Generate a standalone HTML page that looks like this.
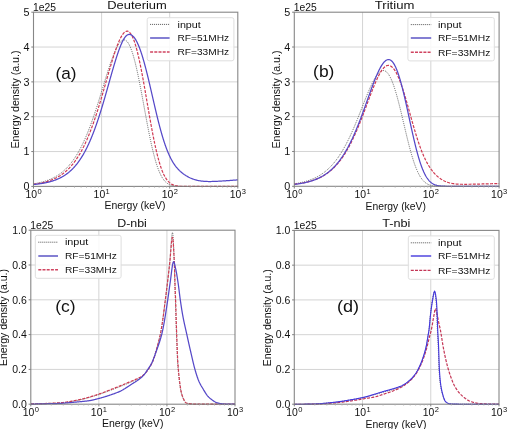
<!DOCTYPE html>
<html><head><meta charset="utf-8"><style>
html,body{margin:0;padding:0;background:#fff;width:507px;height:429px;overflow:hidden}
svg{position:absolute;left:0;top:0;display:block;filter:blur(0.3px)}
text{fill:#111}
text.s{font-family:"Liberation Sans",sans-serif}
text.r{font-family:"Liberation Serif",serif}
</style></head><body>
<svg width="507" height="429" viewBox="0 0 507 429">
<defs>
<clipPath id="clipa"><rect x="32.5" y="11.2" width="206.3" height="176.20000000000002"/></clipPath>
<clipPath id="clipb"><rect x="293.3" y="11.2" width="206.8" height="176.10000000000002"/></clipPath>
<clipPath id="clipc"><rect x="29.8" y="229.2" width="206.2" height="176.0"/></clipPath>
<clipPath id="clipd"><rect x="293.3" y="229.4" width="206.7" height="175.79999999999998"/></clipPath>
</defs>
<line x1="101.60" y1="12.20" x2="101.60" y2="186.40" stroke="#d4d4d4" stroke-width="1"/>
<line x1="169.70" y1="12.20" x2="169.70" y2="186.40" stroke="#d4d4d4" stroke-width="1"/>
<line x1="33.50" y1="151.56" x2="237.80" y2="151.56" stroke="#d4d4d4" stroke-width="1"/>
<line x1="33.50" y1="116.72" x2="237.80" y2="116.72" stroke="#d4d4d4" stroke-width="1"/>
<line x1="33.50" y1="81.88" x2="237.80" y2="81.88" stroke="#d4d4d4" stroke-width="1"/>
<line x1="33.50" y1="47.04" x2="237.80" y2="47.04" stroke="#d4d4d4" stroke-width="1"/>
<path d="M33.50,183.82 34.09,183.72 34.68,183.62 35.27,183.52 35.86,183.41 36.45,183.30 37.04,183.19 37.63,183.07 38.21,182.95 38.80,182.82 39.39,182.69 39.97,182.56 40.55,182.42 41.13,182.28 41.72,182.13 42.29,181.98 42.87,181.82 43.45,181.66 44.02,181.49 44.60,181.31 45.17,181.14 45.74,180.95 46.31,180.76 46.88,180.57 47.44,180.37 48.00,180.16 48.56,179.95 49.12,179.73 49.68,179.50 50.23,179.27 50.78,179.04 51.33,178.79 51.87,178.54 52.42,178.29 52.96,178.03 53.49,177.76 54.02,177.48 54.55,177.20 55.08,176.91 55.60,176.62 56.12,176.32 56.63,176.01 57.15,175.70 57.65,175.38 58.16,175.06 58.66,174.73 59.15,174.39 59.64,174.04 60.13,173.69 60.61,173.34 61.09,172.98 61.56,172.61 62.03,172.24 62.50,171.86 62.96,171.47 63.41,171.08 63.86,170.69 64.31,170.29 64.75,169.89 65.19,169.48 65.62,169.06 66.05,168.64 66.48,168.22 66.89,167.79 67.31,167.36 67.72,166.92 68.13,166.48 68.53,166.04 68.93,165.59 69.32,165.14 69.71,164.68 70.09,164.22 70.47,163.76 70.85,163.29 71.22,162.82 71.59,162.35 71.96,161.88 72.32,161.40 72.67,160.92 73.03,160.43 73.38,159.94 73.72,159.46 74.07,158.96 74.40,158.47 74.74,157.97 75.07,157.47 75.40,156.97 75.72,156.47 76.05,155.96 76.36,155.45 76.68,154.95 76.99,154.43 77.30,153.92 77.61,153.41 77.91,152.89 78.21,152.37 78.51,151.85 78.81,151.33 79.10,150.81 79.39,150.28 79.67,149.75 79.96,149.23 80.24,148.70 80.52,148.17 80.80,147.64 81.07,147.10 81.34,146.57 81.61,146.03 81.88,145.50 82.15,144.96 82.41,144.42 82.67,143.88 82.93,143.34 83.19,142.80 83.44,142.26 83.70,141.72 83.95,141.17 84.20,140.63 84.45,140.08 84.69,139.54 84.94,138.99 85.18,138.44 85.42,137.89 85.66,137.34 85.89,136.79 86.13,136.24 86.36,135.69 86.60,135.14 86.83,134.58 87.06,134.03 87.29,133.48 87.51,132.92 87.74,132.37 87.96,131.81 88.18,131.25 88.41,130.70 88.63,130.14 88.84,129.58 89.06,129.02 89.28,128.46 89.49,127.90 89.71,127.34 89.92,126.78 90.13,126.22 90.34,125.66 90.55,125.10 90.76,124.54 90.97,123.98 91.17,123.41 91.38,122.85 91.58,122.29 91.78,121.72 91.99,121.16 92.19,120.59 92.39,120.03 92.59,119.46 92.79,118.90 92.98,118.33 93.18,117.77 93.38,117.20 93.57,116.63 93.77,116.07 93.96,115.50 94.15,114.93 94.35,114.37 94.54,113.80 94.73,113.23 94.92,112.66 95.11,112.09 95.30,111.52 95.49,110.95 95.68,110.39 95.86,109.82 96.05,109.25 96.23,108.68 96.42,108.11 96.61,107.54 96.79,106.97 96.97,106.40 97.16,105.83 97.34,105.26 97.52,104.68 97.70,104.11 97.89,103.54 98.07,102.97 98.25,102.40 98.43,101.83 98.61,101.26 98.79,100.68 98.97,100.11 99.14,99.54 99.32,98.97 99.50,98.40 99.68,97.82 99.86,97.25 100.03,96.68 100.21,96.11 100.39,95.53 100.56,94.96 100.74,94.39 100.92,93.82 101.09,93.24 101.27,92.67 101.45,92.10 101.62,91.52 101.80,90.95 101.97,90.38 102.15,89.80 102.32,89.23 102.50,88.66 102.67,88.08 102.85,87.51 103.02,86.94 103.20,86.36 103.37,85.79 103.55,85.22 103.72,84.65 103.90,84.07 104.07,83.50 104.25,82.93 104.42,82.35 104.60,81.78 104.77,81.21 104.95,80.63 105.12,80.06 105.30,79.49 105.48,78.92 105.65,78.34 105.83,77.77 106.01,77.20 106.18,76.62 106.36,76.05 106.54,75.48 106.72,74.91 106.90,74.34 107.08,73.76 107.26,73.19 107.44,72.62 107.62,72.05 107.80,71.48 107.98,70.91 108.16,70.34 108.35,69.77 108.53,69.20 108.71,68.62 108.90,68.05 109.08,67.49 109.27,66.92 109.46,66.35 109.65,65.78 109.84,65.21 110.03,64.64 110.22,64.07 110.41,63.50 110.60,62.94 110.80,62.37 110.99,61.80 111.19,61.24 111.39,60.67 111.59,60.11 111.79,59.54 112.00,58.98 112.20,58.42 112.41,57.85 112.62,57.29 112.83,56.73 113.04,56.17 113.25,55.61 113.47,55.05 113.69,54.49 113.91,53.94 114.14,53.38 114.36,52.83 114.59,52.28 114.83,51.72 115.07,51.17 115.31,50.62 115.55,50.08 115.80,49.53 116.06,48.99 116.32,48.45 116.58,47.91 116.85,47.38 117.13,46.85 117.41,46.32 117.71,45.80 118.01,45.28 118.32,44.76 118.64,44.26 118.97,43.76 119.32,43.27 119.68,42.79 120.06,42.33 120.45,41.88 120.87,41.45 121.32,41.05 121.80,40.69 122.31,40.38 122.85,40.13 123.43,39.96 124.02,39.90 124.62,39.95 125.19,40.13 125.72,40.40 126.22,40.74 126.67,41.13 127.09,41.56 127.47,42.02 127.84,42.50 128.18,42.99 128.50,43.50 128.80,44.01 129.09,44.54 129.37,45.07 129.63,45.60 129.89,46.15 130.14,46.69 130.38,47.24 130.61,47.80 130.83,48.35 131.05,48.91 131.26,49.47 131.47,50.03 131.67,50.60 131.87,51.16 132.06,51.73 132.25,52.30 132.44,52.87 132.62,53.44 132.80,54.01 132.98,54.58 133.15,55.16 133.32,55.73 133.49,56.31 133.65,56.88 133.81,57.46 133.98,58.04 134.13,58.61 134.29,59.19 134.44,59.77 134.60,60.35 134.75,60.93 134.90,61.51 135.04,62.09 135.19,62.67 135.34,63.26 135.48,63.84 135.62,64.42 135.76,65.00 135.90,65.59 136.04,66.17 136.17,66.75 136.31,67.34 136.44,67.92 136.58,68.51 136.71,69.09 136.84,69.67 136.97,70.26 137.10,70.84 137.23,71.43 137.36,72.02 137.48,72.60 137.61,73.19 137.74,73.77 137.86,74.36 137.98,74.95 138.11,75.53 138.23,76.12 138.35,76.71 138.47,77.29 138.59,77.88 138.71,78.47 138.83,79.05 138.95,79.64 139.07,80.23 139.19,80.82 139.31,81.40 139.42,81.99 139.54,82.58 139.66,83.17 139.77,83.76 139.89,84.34 140.00,84.93 140.12,85.52 140.23,86.11 140.34,86.70 140.46,87.29 140.57,87.87 140.68,88.46 140.79,89.05 140.91,89.64 141.02,90.23 141.13,90.82 141.24,91.41 141.35,92.00 141.46,92.58 141.57,93.17 141.68,93.76 141.79,94.35 141.90,94.94 142.01,95.53 142.12,96.12 142.23,96.71 142.34,97.30 142.45,97.89 142.56,98.48 142.67,99.07 142.78,99.66 142.89,100.24 143.00,100.83 143.10,101.42 143.21,102.01 143.32,102.60 143.43,103.19 143.54,103.78 143.64,104.37 143.75,104.96 143.86,105.55 143.97,106.14 144.08,106.73 144.18,107.32 144.29,107.91 144.40,108.50 144.51,109.09 144.62,109.68 144.73,110.27 144.83,110.86 144.94,111.44 145.05,112.03 145.16,112.62 145.27,113.21 145.38,113.80 145.48,114.39 145.59,114.98 145.70,115.57 145.81,116.16 145.92,116.75 146.03,117.34 146.14,117.93 146.25,118.52 146.36,119.11 146.47,119.69 146.58,120.28 146.69,120.87 146.80,121.46 146.91,122.05 147.02,122.64 147.13,123.23 147.24,123.82 147.36,124.41 147.47,125.00 147.58,125.58 147.69,126.17 147.81,126.76 147.92,127.35 148.03,127.94 148.15,128.53 148.26,129.11 148.38,129.70 148.49,130.29 148.61,130.88 148.72,131.47 148.84,132.06 148.95,132.64 149.07,133.23 149.19,133.82 149.31,134.41 149.43,134.99 149.55,135.58 149.67,136.17 149.79,136.76 149.91,137.34 150.03,137.93 150.15,138.52 150.27,139.10 150.40,139.69 150.52,140.28 150.64,140.86 150.77,141.45 150.89,142.03 151.02,142.62 151.15,143.21 151.28,143.79 151.41,144.38 151.54,144.96 151.67,145.55 151.80,146.13 151.93,146.72 152.06,147.30 152.20,147.88 152.33,148.47 152.47,149.05 152.61,149.63 152.74,150.22 152.88,150.80 153.02,151.38 153.17,151.97 153.31,152.55 153.45,153.13 153.60,153.71 153.75,154.29 153.90,154.87 154.05,155.45 154.20,156.03 154.35,156.61 154.50,157.19 154.66,157.77 154.82,158.35 154.98,158.92 155.14,159.50 155.30,160.08 155.47,160.65 155.64,161.23 155.81,161.80 155.98,162.38 156.16,162.95 156.33,163.52 156.51,164.09 156.70,164.67 156.88,165.24 157.07,165.80 157.26,166.37 157.46,166.94 157.65,167.50 157.86,168.07 158.06,168.63 158.27,169.19 158.48,169.75 158.70,170.31 158.92,170.87 159.15,171.42 159.38,171.98 159.62,172.53 159.86,173.07 160.11,173.62 160.37,174.16 160.63,174.70 160.90,175.24 161.17,175.77 161.46,176.30 161.75,176.82 162.05,177.34 162.37,177.85 162.69,178.35 163.02,178.85 163.37,179.34 163.72,179.82 164.09,180.29 164.47,180.76 164.87,181.20 165.28,181.64 165.71,182.06 166.15,182.46 166.61,182.85 167.09,183.22 167.58,183.56 168.08,183.89 168.60,184.19 169.13,184.46 169.67,184.72 170.23,184.94 170.79,185.15 171.36,185.33 171.94,185.49 172.52,185.63 173.11,185.76 173.70,185.86 174.29,185.95 174.88,186.03 175.48,186.10 176.08,186.15 176.67,186.20 177.27,186.24 177.87,186.27 178.47,186.29 179.07,186.32 179.67,186.33 180.27,186.35 180.87,186.36 181.46,186.37 182.06,186.38 182.66,186.38 183.26,186.39 183.86,186.39 184.46,186.39 185.06,186.39 185.66,186.40 186.26,186.40 186.86,186.40 187.46,186.40 188.06,186.40 188.66,186.40 189.26,186.40 189.86,186.40 190.45,186.40 191.05,186.40 191.65,186.40 192.25,186.40 192.85,186.40 193.45,186.40 194.05,186.40 194.65,186.40 195.25,186.40 195.85,186.40 196.45,186.40 197.05,186.40 197.65,186.40 198.25,186.40 198.84,186.40 199.44,186.40 200.04,186.40 200.64,186.40 201.24,186.40 201.84,186.40 202.44,186.40 203.04,186.40 203.64,186.40 204.24,186.40 204.84,186.40 205.44,186.40 206.04,186.40 206.64,186.40 207.24,186.40 207.83,186.40 208.43,186.40 209.03,186.40 209.63,186.40 210.23,186.40 210.83,186.40 211.43,186.40 212.03,186.40 212.63,186.40 213.23,186.40 213.83,186.40 214.43,186.40 215.03,186.40 215.63,186.40 216.22,186.40 216.82,186.40 217.42,186.40 218.02,186.40 218.62,186.40 219.22,186.40 219.82,186.40 220.42,186.40 221.02,186.40 221.62,186.40 222.22,186.40 222.82,186.40 223.42,186.40 224.02,186.40 224.62,186.40 225.21,186.40 225.81,186.40 226.41,186.40 227.01,186.40 227.61,186.40 228.21,186.40 228.81,186.40 229.41,186.40 230.01,186.40 230.61,186.40 231.21,186.40 231.81,186.40 232.41,186.40 233.01,186.40 233.60,186.40 234.20,186.40 234.80,186.40 235.40,186.40 236.00,186.40 236.60,186.40 237.20,186.40 237.80,186.40" fill="none" stroke="#444" stroke-width="0.9" stroke-dasharray="0.9 1.1" clip-path="url(#clipa)"/>
<path d="M33.50,184.29 34.09,184.21 34.69,184.13 35.28,184.04 35.87,183.95 36.47,183.86 37.06,183.77 37.65,183.67 38.24,183.56 38.83,183.46 39.42,183.35 40.01,183.23 40.59,183.11 41.18,182.99 41.77,182.87 42.35,182.73 42.93,182.60 43.52,182.46 44.10,182.31 44.68,182.17 45.26,182.01 45.84,181.85 46.41,181.69 46.99,181.52 47.56,181.34 48.13,181.16 48.70,180.98 49.27,180.79 49.84,180.59 50.40,180.38 50.96,180.17 51.52,179.96 52.08,179.74 52.63,179.51 53.18,179.28 53.73,179.04 54.28,178.79 54.82,178.54 55.36,178.28 55.90,178.01 56.43,177.74 56.96,177.46 57.49,177.17 58.01,176.88 58.53,176.58 59.05,176.28 59.56,175.97 60.07,175.65 60.57,175.32 61.07,174.99 61.57,174.66 62.06,174.31 62.55,173.96 63.03,173.61 63.51,173.25 63.98,172.88 64.45,172.51 64.92,172.13 65.38,171.75 65.83,171.36 66.28,170.96 66.73,170.56 67.17,170.15 67.61,169.74 68.04,169.33 68.47,168.91 68.89,168.48 69.31,168.06 69.72,167.62 70.13,167.18 70.54,166.74 70.94,166.30 71.33,165.85 71.72,165.39 72.11,164.93 72.49,164.47 72.87,164.01 73.25,163.54 73.62,163.07 73.98,162.59 74.34,162.12 74.70,161.64 75.06,161.15 75.41,160.67 75.75,160.18 76.10,159.68 76.43,159.19 76.77,158.69 77.10,158.20 77.43,157.69 77.76,157.19 78.08,156.68 78.40,156.18 78.71,155.67 79.02,155.15 79.33,154.64 79.64,154.13 79.94,153.61 80.24,153.09 80.54,152.57 80.83,152.05 81.12,151.52 81.41,151.00 81.69,150.47 81.98,149.94 82.26,149.41 82.53,148.88 82.81,148.35 83.08,147.81 83.35,147.28 83.62,146.74 83.89,146.21 84.15,145.67 84.41,145.13 84.67,144.59 84.93,144.05 85.18,143.50 85.43,142.96 85.68,142.41 85.93,141.87 86.18,141.32 86.42,140.78 86.67,140.23 86.91,139.68 87.15,139.13 87.38,138.58 87.62,138.03 87.85,137.48 88.09,136.92 88.32,136.37 88.55,135.82 88.77,135.26 89.00,134.71 89.22,134.15 89.45,133.60 89.67,133.04 89.89,132.48 90.11,131.92 90.33,131.36 90.54,130.81 90.76,130.25 90.97,129.69 91.18,129.13 91.39,128.56 91.60,128.00 91.81,127.44 92.02,126.88 92.22,126.32 92.43,125.75 92.63,125.19 92.83,124.62 93.04,124.06 93.24,123.50 93.44,122.93 93.63,122.36 93.83,121.80 94.03,121.23 94.22,120.67 94.42,120.10 94.61,119.53 94.80,118.96 95.00,118.40 95.19,117.83 95.38,117.26 95.57,116.69 95.76,116.12 95.94,115.55 96.13,114.98 96.32,114.41 96.50,113.84 96.69,113.27 96.87,112.70 97.05,112.13 97.24,111.56 97.42,110.99 97.60,110.42 97.78,109.85 97.96,109.28 98.14,108.70 98.32,108.13 98.49,107.56 98.67,106.99 98.85,106.41 99.03,105.84 99.20,105.27 99.38,104.70 99.55,104.12 99.73,103.55 99.90,102.98 100.07,102.40 100.25,101.83 100.42,101.25 100.59,100.68 100.76,100.11 100.93,99.53 101.10,98.96 101.27,98.38 101.44,97.81 101.61,97.23 101.78,96.66 101.95,96.08 102.12,95.51 102.29,94.93 102.46,94.36 102.62,93.78 102.79,93.21 102.96,92.63 103.13,92.05 103.29,91.48 103.46,90.90 103.62,90.33 103.79,89.75 103.96,89.18 104.12,88.60 104.29,88.02 104.45,87.45 104.62,86.87 104.78,86.29 104.95,85.72 105.11,85.14 105.28,84.57 105.44,83.99 105.61,83.41 105.77,82.84 105.93,82.26 106.10,81.68 106.26,81.11 106.43,80.53 106.59,79.95 106.76,79.38 106.92,78.80 107.08,78.23 107.25,77.65 107.41,77.07 107.58,76.50 107.74,75.92 107.91,75.34 108.07,74.77 108.24,74.19 108.40,73.62 108.57,73.04 108.73,72.46 108.90,71.89 109.07,71.31 109.23,70.74 109.40,70.16 109.57,69.58 109.73,69.01 109.90,68.43 110.07,67.86 110.24,67.28 110.41,66.71 110.58,66.13 110.75,65.56 110.92,64.98 111.09,64.41 111.26,63.83 111.43,63.26 111.60,62.69 111.77,62.11 111.95,61.54 112.12,60.97 112.30,60.39 112.47,59.82 112.65,59.25 112.83,58.67 113.00,58.10 113.18,57.53 113.36,56.96 113.54,56.39 113.72,55.81 113.91,55.24 114.09,54.67 114.28,54.10 114.46,53.53 114.65,52.96 114.84,52.40 115.03,51.83 115.22,51.26 115.41,50.69 115.61,50.13 115.81,49.56 116.00,48.99 116.20,48.43 116.41,47.86 116.61,47.30 116.82,46.74 117.03,46.18 117.24,45.62 117.45,45.06 117.67,44.50 117.89,43.94 118.11,43.38 118.34,42.83 118.57,42.28 118.80,41.72 119.04,41.17 119.28,40.63 119.53,40.08 119.78,39.54 120.04,38.99 120.30,38.46 120.58,37.92 120.85,37.39 121.14,36.86 121.44,36.34 121.74,35.83 122.06,35.32 122.39,34.82 122.73,34.33 123.09,33.85 123.47,33.38 123.87,32.94 124.30,32.52 124.75,32.13 125.24,31.78 125.77,31.50 126.33,31.29 126.92,31.19 127.52,31.22 128.10,31.37 128.64,31.63 129.13,31.96 129.59,32.36 130.00,32.79 130.39,33.25 130.74,33.73 131.08,34.23 131.39,34.74 131.69,35.26 131.97,35.79 132.24,36.32 132.50,36.86 132.75,37.41 132.99,37.95 133.23,38.51 133.45,39.06 133.67,39.62 133.88,40.18 134.09,40.74 134.29,41.31 134.49,41.87 134.68,42.44 134.87,43.01 135.05,43.58 135.23,44.15 135.41,44.73 135.58,45.30 135.75,45.87 135.92,46.45 136.08,47.03 136.24,47.60 136.40,48.18 136.56,48.76 136.72,49.34 136.87,49.92 137.02,50.50 137.17,51.08 137.32,51.66 137.46,52.24 137.61,52.82 137.75,53.40 137.89,53.99 138.03,54.57 138.17,55.15 138.31,55.74 138.44,56.32 138.57,56.90 138.71,57.49 138.84,58.07 138.97,58.66 139.10,59.24 139.23,59.83 139.36,60.41 139.48,61.00 139.61,61.59 139.73,62.17 139.86,62.76 139.98,63.35 140.10,63.93 140.22,64.52 140.34,65.11 140.46,65.69 140.58,66.28 140.70,66.87 140.82,67.46 140.93,68.04 141.05,68.63 141.17,69.22 141.28,69.81 141.40,70.40 141.51,70.99 141.62,71.57 141.74,72.16 141.85,72.75 141.96,73.34 142.07,73.93 142.18,74.52 142.30,75.11 142.41,75.70 142.52,76.29 142.63,76.87 142.73,77.46 142.84,78.05 142.95,78.64 143.06,79.23 143.17,79.82 143.27,80.41 143.38,81.00 143.49,81.59 143.59,82.18 143.70,82.77 143.81,83.36 143.91,83.95 144.02,84.54 144.12,85.13 144.23,85.72 144.33,86.31 144.44,86.90 144.54,87.49 144.64,88.08 144.75,88.67 144.85,89.26 144.95,89.85 145.06,90.44 145.16,91.03 145.26,91.62 145.37,92.21 145.47,92.80 145.57,93.40 145.67,93.99 145.78,94.58 145.88,95.17 145.98,95.76 146.08,96.35 146.19,96.94 146.29,97.53 146.39,98.12 146.49,98.71 146.59,99.30 146.70,99.89 146.80,100.48 146.90,101.07 147.00,101.66 147.10,102.25 147.20,102.85 147.31,103.44 147.41,104.03 147.51,104.62 147.61,105.21 147.71,105.80 147.82,106.39 147.92,106.98 148.02,107.57 148.12,108.16 148.22,108.75 148.33,109.34 148.43,109.93 148.53,110.52 148.63,111.11 148.74,111.70 148.84,112.29 148.94,112.88 149.04,113.48 149.15,114.07 149.25,114.66 149.35,115.25 149.46,115.84 149.56,116.43 149.67,117.02 149.77,117.61 149.87,118.20 149.98,118.79 150.08,119.38 150.19,119.97 150.29,120.56 150.40,121.15 150.51,121.74 150.61,122.33 150.72,122.92 150.82,123.51 150.93,124.10 151.04,124.69 151.15,125.28 151.25,125.87 151.36,126.46 151.47,127.05 151.58,127.63 151.69,128.22 151.80,128.81 151.91,129.40 152.02,129.99 152.13,130.58 152.24,131.17 152.35,131.76 152.47,132.35 152.58,132.94 152.69,133.52 152.80,134.11 152.92,134.70 153.03,135.29 153.15,135.88 153.26,136.47 153.38,137.05 153.50,137.64 153.61,138.23 153.73,138.82 153.85,139.40 153.97,139.99 154.09,140.58 154.21,141.17 154.33,141.75 154.46,142.34 154.58,142.93 154.70,143.51 154.83,144.10 154.95,144.68 155.08,145.27 155.21,145.86 155.33,146.44 155.46,147.03 155.59,147.61 155.72,148.20 155.85,148.78 155.99,149.37 156.12,149.95 156.26,150.53 156.39,151.12 156.53,151.70 156.67,152.28 156.81,152.87 156.95,153.45 157.09,154.03 157.24,154.61 157.38,155.20 157.53,155.78 157.68,156.36 157.83,156.94 157.98,157.52 158.13,158.10 158.29,158.68 158.45,159.25 158.61,159.83 158.77,160.41 158.93,160.99 159.10,161.56 159.26,162.14 159.43,162.71 159.61,163.29 159.78,163.86 159.96,164.43 160.14,165.00 160.32,165.57 160.51,166.14 160.70,166.71 160.89,167.28 161.09,167.85 161.29,168.41 161.49,168.97 161.70,169.54 161.91,170.10 162.13,170.66 162.35,171.21 162.57,171.77 162.81,172.32 163.04,172.87 163.29,173.42 163.53,173.96 163.79,174.51 164.05,175.05 164.32,175.58 164.60,176.11 164.89,176.64 165.18,177.16 165.49,177.68 165.80,178.19 166.13,178.69 166.46,179.18 166.81,179.67 167.17,180.15 167.55,180.62 167.94,181.07 168.34,181.52 168.76,181.94 169.20,182.36 169.65,182.75 170.12,183.12 170.60,183.48 171.10,183.81 171.61,184.12 172.14,184.41 172.68,184.67 173.23,184.90 173.79,185.11 174.36,185.30 174.93,185.47 175.52,185.61 176.10,185.74 176.69,185.85 177.28,185.94 177.88,186.02 178.47,186.09 179.07,186.15 179.67,186.19 180.27,186.23 180.86,186.27 181.46,186.29 182.06,186.31 182.66,186.33 183.26,186.35 183.86,186.36 184.46,186.37 185.06,186.38 185.66,186.38 186.26,186.39 186.86,186.39 187.45,186.39 188.05,186.39 188.65,186.40 189.25,186.40 189.85,186.40 190.45,186.40 191.05,186.40 191.65,186.40 192.25,186.40 192.85,186.40 193.45,186.40 194.05,186.40 194.65,186.40 195.25,186.40 195.85,186.40 196.44,186.40 197.04,186.40 197.64,186.40 198.24,186.40 198.84,186.40 199.44,186.40 200.04,186.40 200.64,186.40 201.24,186.40 201.84,186.40 202.44,186.40 203.04,186.40 203.64,186.40 204.24,186.40 204.84,186.40 205.44,186.40 206.03,186.40 206.63,186.40 207.23,186.40 207.83,186.40 208.43,186.40 209.03,186.40 209.63,186.40 210.23,186.40 210.83,186.40 211.43,186.40 212.03,186.40 212.63,186.40 213.23,186.40 213.83,186.40 214.43,186.40 215.02,186.40 215.62,186.40 216.22,186.40 216.82,186.40 217.42,186.40 218.02,186.40 218.62,186.40 219.22,186.40 219.82,186.40 220.42,186.40 221.02,186.40 221.62,186.40 222.22,186.40 222.82,186.40 223.42,186.40 224.01,186.40 224.61,186.40 225.21,186.40 225.81,186.40 226.41,186.40 227.01,186.40 227.61,186.40 228.21,186.40 228.81,186.40 229.41,186.40 230.01,186.40 230.61,186.40 231.21,186.40 231.81,186.40 232.41,186.40 233.01,186.40 233.60,186.40 234.20,186.40 234.80,186.40 235.40,186.40 236.00,186.40 236.60,186.40 237.20,186.40 237.80,186.40" fill="none" stroke="#d03a52" stroke-width="1.2" stroke-dasharray="3 1.3" clip-path="url(#clipa)"/>
<path d="M33.50,184.54 34.10,184.48 34.69,184.42 35.29,184.35 35.89,184.29 36.48,184.22 37.08,184.15 37.67,184.07 38.27,184.00 38.86,183.92 39.46,183.83 40.05,183.75 40.64,183.66 41.24,183.57 41.83,183.47 42.42,183.37 43.01,183.27 43.60,183.17 44.19,183.06 44.78,182.94 45.37,182.82 45.96,182.70 46.54,182.57 47.13,182.44 47.71,182.31 48.29,182.17 48.88,182.02 49.46,181.87 50.04,181.72 50.61,181.56 51.19,181.39 51.77,181.22 52.34,181.04 52.91,180.86 53.48,180.67 54.05,180.48 54.61,180.28 55.18,180.07 55.74,179.86 56.30,179.64 56.85,179.42 57.41,179.18 57.96,178.95 58.50,178.70 59.05,178.45 59.59,178.19 60.13,177.93 60.66,177.65 61.19,177.37 61.72,177.09 62.24,176.80 62.76,176.50 63.28,176.19 63.79,175.88 64.30,175.56 64.80,175.23 65.30,174.90 65.80,174.56 66.29,174.22 66.77,173.87 67.25,173.51 67.73,173.14 68.20,172.77 68.67,172.40 69.13,172.01 69.59,171.63 70.04,171.23 70.49,170.83 70.93,170.43 71.37,170.02 71.80,169.60 72.23,169.18 72.66,168.76 73.07,168.33 73.49,167.89 73.90,167.46 74.30,167.01 74.70,166.57 75.10,166.11 75.49,165.66 75.87,165.20 76.25,164.74 76.63,164.27 77.00,163.80 77.37,163.33 77.74,162.85 78.10,162.37 78.45,161.89 78.80,161.40 79.15,160.91 79.50,160.42 79.84,159.93 80.17,159.43 80.50,158.93 80.83,158.43 81.16,157.93 81.48,157.42 81.80,156.91 82.11,156.40 82.42,155.89 82.73,155.37 83.04,154.86 83.34,154.34 83.64,153.82 83.93,153.30 84.23,152.77 84.52,152.25 84.80,151.72 85.09,151.19 85.37,150.66 85.65,150.13 85.92,149.60 86.20,149.06 86.47,148.53 86.74,147.99 87.00,147.46 87.26,146.92 87.53,146.38 87.78,145.84 88.04,145.29 88.30,144.75 88.55,144.21 88.80,143.66 89.05,143.11 89.29,142.57 89.54,142.02 89.78,141.47 90.02,140.92 90.26,140.37 90.49,139.82 90.73,139.27 90.96,138.71 91.19,138.16 91.42,137.61 91.65,137.05 91.88,136.50 92.10,135.94 92.32,135.38 92.55,134.83 92.77,134.27 92.98,133.71 93.20,133.15 93.42,132.59 93.63,132.03 93.84,131.47 94.06,130.91 94.27,130.35 94.47,129.78 94.68,129.22 94.89,128.66 95.09,128.09 95.30,127.53 95.50,126.97 95.70,126.40 95.90,125.84 96.10,125.27 96.30,124.70 96.50,124.14 96.70,123.57 96.89,123.00 97.09,122.44 97.28,121.87 97.47,121.30 97.66,120.73 97.85,120.16 98.04,119.59 98.23,119.03 98.42,118.46 98.61,117.89 98.79,117.32 98.98,116.74 99.16,116.17 99.35,115.60 99.53,115.03 99.71,114.46 99.89,113.89 100.08,113.32 100.26,112.75 100.44,112.17 100.61,111.60 100.79,111.03 100.97,110.45 101.15,109.88 101.32,109.31 101.50,108.73 101.67,108.16 101.85,107.59 102.02,107.01 102.20,106.44 102.37,105.86 102.54,105.29 102.71,104.72 102.89,104.14 103.06,103.57 103.23,102.99 103.40,102.42 103.57,101.84 103.74,101.26 103.91,100.69 104.07,100.11 104.24,99.54 104.41,98.96 104.58,98.39 104.75,97.81 104.91,97.23 105.08,96.66 105.24,96.08 105.41,95.50 105.58,94.93 105.74,94.35 105.91,93.77 106.07,93.20 106.24,92.62 106.40,92.04 106.56,91.47 106.73,90.89 106.89,90.31 107.06,89.74 107.22,89.16 107.38,88.58 107.55,88.00 107.71,87.43 107.87,86.85 108.03,86.27 108.20,85.70 108.36,85.12 108.52,84.54 108.69,83.96 108.85,83.39 109.01,82.81 109.17,82.23 109.34,81.65 109.50,81.08 109.66,80.50 109.82,79.92 109.99,79.35 110.15,78.77 110.31,78.19 110.48,77.61 110.64,77.04 110.80,76.46 110.97,75.88 111.13,75.31 111.30,74.73 111.46,74.15 111.62,73.57 111.79,73.00 111.95,72.42 112.12,71.84 112.29,71.27 112.45,70.69 112.62,70.12 112.79,69.54 112.95,68.96 113.12,68.39 113.29,67.81 113.46,67.24 113.63,66.66 113.80,66.09 113.97,65.51 114.14,64.94 114.31,64.36 114.48,63.79 114.66,63.21 114.83,62.64 115.00,62.06 115.18,61.49 115.36,60.92 115.53,60.34 115.71,59.77 115.89,59.20 116.07,58.63 116.25,58.05 116.43,57.48 116.62,56.91 116.80,56.34 116.99,55.77 117.17,55.20 117.36,54.63 117.55,54.06 117.74,53.49 117.94,52.93 118.13,52.36 118.33,51.79 118.53,51.23 118.73,50.66 118.93,50.10 119.14,49.53 119.35,48.97 119.56,48.41 119.77,47.85 119.99,47.29 120.21,46.73 120.43,46.17 120.65,45.62 120.88,45.06 121.12,44.51 121.36,43.96 121.60,43.41 121.85,42.87 122.10,42.32 122.36,41.78 122.63,41.24 122.90,40.71 123.18,40.18 123.47,39.66 123.77,39.14 124.08,38.62 124.41,38.12 124.74,37.62 125.10,37.14 125.47,36.67 125.86,36.22 126.28,35.79 126.73,35.39 127.22,35.04 127.74,34.74 128.30,34.53 128.89,34.42 129.48,34.42 130.08,34.51 130.65,34.68 131.20,34.92 131.72,35.22 132.22,35.56 132.68,35.94 133.12,36.34 133.54,36.78 133.93,37.23 134.31,37.70 134.67,38.18 135.01,38.67 135.34,39.17 135.66,39.68 135.96,40.19 136.26,40.72 136.55,41.24 136.82,41.77 137.09,42.31 137.36,42.85 137.61,43.39 137.86,43.94 138.11,44.48 138.35,45.03 138.58,45.59 138.81,46.14 139.04,46.70 139.26,47.25 139.47,47.81 139.69,48.37 139.90,48.94 140.10,49.50 140.31,50.06 140.51,50.63 140.70,51.20 140.90,51.76 141.09,52.33 141.28,52.90 141.47,53.47 141.65,54.04 141.84,54.61 142.02,55.18 142.20,55.76 142.37,56.33 142.55,56.90 142.72,57.48 142.89,58.05 143.06,58.63 143.23,59.20 143.40,59.78 143.57,60.35 143.73,60.93 143.89,61.51 144.06,62.09 144.22,62.66 144.38,63.24 144.54,63.82 144.69,64.40 144.85,64.98 145.00,65.56 145.16,66.14 145.31,66.72 145.47,67.30 145.62,67.88 145.77,68.46 145.92,69.04 146.07,69.62 146.22,70.20 146.36,70.78 146.51,71.36 146.66,71.95 146.80,72.53 146.95,73.11 147.09,73.69 147.24,74.27 147.38,74.86 147.52,75.44 147.67,76.02 147.81,76.60 147.95,77.19 148.09,77.77 148.23,78.35 148.37,78.94 148.51,79.52 148.65,80.10 148.79,80.69 148.93,81.27 149.06,81.86 149.20,82.44 149.34,83.02 149.48,83.61 149.61,84.19 149.75,84.77 149.89,85.36 150.02,85.94 150.16,86.53 150.29,87.11 150.43,87.70 150.57,88.28 150.70,88.86 150.84,89.45 150.97,90.03 151.11,90.62 151.24,91.20 151.37,91.79 151.51,92.37 151.64,92.96 151.78,93.54 151.91,94.13 152.05,94.71 152.18,95.29 152.32,95.88 152.45,96.46 152.58,97.05 152.72,97.63 152.85,98.22 152.99,98.80 153.12,99.39 153.26,99.97 153.39,100.56 153.52,101.14 153.66,101.72 153.79,102.31 153.93,102.89 154.06,103.48 154.20,104.06 154.34,104.65 154.47,105.23 154.61,105.82 154.74,106.40 154.88,106.98 155.02,107.57 155.15,108.15 155.29,108.74 155.43,109.32 155.57,109.90 155.70,110.49 155.84,111.07 155.98,111.65 156.12,112.24 156.26,112.82 156.40,113.40 156.54,113.99 156.68,114.57 156.82,115.15 156.96,115.74 157.10,116.32 157.24,116.90 157.39,117.49 157.53,118.07 157.67,118.65 157.82,119.23 157.96,119.81 158.11,120.40 158.26,120.98 158.40,121.56 158.55,122.14 158.70,122.72 158.85,123.30 159.00,123.88 159.15,124.47 159.30,125.05 159.45,125.63 159.60,126.21 159.75,126.79 159.91,127.37 160.06,127.95 160.22,128.53 160.37,129.10 160.53,129.68 160.69,130.26 160.85,130.84 161.01,131.42 161.17,132.00 161.33,132.57 161.50,133.15 161.66,133.73 161.83,134.30 161.99,134.88 162.16,135.45 162.33,136.03 162.50,136.61 162.68,137.18 162.85,137.75 163.03,138.33 163.20,138.90 163.38,139.47 163.56,140.05 163.74,140.62 163.92,141.19 164.11,141.76 164.30,142.33 164.48,142.90 164.67,143.47 164.87,144.04 165.06,144.60 165.26,145.17 165.46,145.74 165.66,146.30 165.86,146.87 166.07,147.43 166.27,147.99 166.48,148.55 166.70,149.11 166.91,149.67 167.13,150.23 167.35,150.79 167.58,151.35 167.80,151.90 168.03,152.46 168.27,153.01 168.50,153.56 168.74,154.11 168.99,154.66 169.24,155.20 169.49,155.75 169.74,156.29 170.00,156.83 170.27,157.37 170.54,157.91 170.81,158.44 171.09,158.97 171.37,159.50 171.66,160.03 171.95,160.55 172.25,161.07 172.55,161.59 172.86,162.10 173.17,162.62 173.49,163.12 173.82,163.63 174.15,164.13 174.49,164.62 174.83,165.11 175.18,165.60 175.54,166.08 175.90,166.56 176.28,167.03 176.65,167.49 177.04,167.95 177.43,168.41 177.83,168.86 178.23,169.30 178.65,169.73 179.07,170.16 179.49,170.59 179.92,171.00 180.36,171.41 180.81,171.81 181.26,172.20 181.72,172.59 182.19,172.97 182.66,173.34 183.13,173.71 183.62,174.06 184.10,174.41 184.60,174.75 185.10,175.08 185.60,175.41 186.11,175.72 186.63,176.03 187.14,176.33 187.67,176.63 188.20,176.91 188.73,177.19 189.27,177.45 189.81,177.71 190.35,177.96 190.90,178.20 191.45,178.44 192.01,178.66 192.57,178.88 193.13,179.08 193.70,179.28 194.27,179.47 194.84,179.65 195.42,179.82 195.99,179.98 196.58,180.13 197.16,180.27 197.74,180.41 198.33,180.53 198.92,180.65 199.51,180.76 200.10,180.86 200.69,180.95 201.29,181.03 201.88,181.11 202.48,181.18 203.07,181.24 203.67,181.29 204.27,181.34 204.87,181.38 205.47,181.42 206.06,181.45 206.66,181.47 207.26,181.49 207.86,181.50 208.46,181.51 209.06,181.52 209.66,181.52 210.26,181.52 210.86,181.51 211.46,181.50 212.06,181.49 212.66,181.48 213.26,181.46 213.86,181.44 214.46,181.42 215.06,181.39 215.66,181.37 216.26,181.34 216.86,181.31 217.46,181.28 218.05,181.25 218.65,181.22 219.25,181.18 219.85,181.15 220.45,181.11 221.05,181.08 221.65,181.04 222.25,181.00 222.84,180.96 223.44,180.92 224.04,180.89 224.64,180.84 225.24,180.80 225.84,180.76 226.44,180.72 227.03,180.68 227.63,180.64 228.23,180.59 228.83,180.55 229.43,180.51 230.03,180.46 230.62,180.42 231.22,180.38 231.82,180.33 232.42,180.28 233.02,180.24 233.61,180.19 234.21,180.15 234.81,180.10 235.41,180.05 236.01,180.01 236.60,179.96 237.20,179.91 237.80,179.86" fill="none" stroke="#5548c8" stroke-width="1.25" clip-path="url(#clipa)"/>
<rect x="33.50" y="12.20" width="204.30" height="174.20" fill="none" stroke="#7a7a7a" stroke-width="1.1" stroke-opacity="0.9"/>
<line x1="33.50" y1="186.40" x2="33.50" y2="188.60" stroke="#808080" stroke-width="1"/>
<line x1="101.60" y1="186.40" x2="101.60" y2="188.60" stroke="#808080" stroke-width="1"/>
<line x1="169.70" y1="186.40" x2="169.70" y2="188.60" stroke="#808080" stroke-width="1"/>
<line x1="237.80" y1="186.40" x2="237.80" y2="188.60" stroke="#808080" stroke-width="1"/>
<line x1="54.00" y1="186.40" x2="54.00" y2="187.80" stroke="#b0b0b0" stroke-width="0.8"/>
<line x1="65.99" y1="186.40" x2="65.99" y2="187.80" stroke="#b0b0b0" stroke-width="0.8"/>
<line x1="74.50" y1="186.40" x2="74.50" y2="187.80" stroke="#b0b0b0" stroke-width="0.8"/>
<line x1="81.10" y1="186.40" x2="81.10" y2="187.80" stroke="#b0b0b0" stroke-width="0.8"/>
<line x1="86.49" y1="186.40" x2="86.49" y2="187.80" stroke="#b0b0b0" stroke-width="0.8"/>
<line x1="91.05" y1="186.40" x2="91.05" y2="187.80" stroke="#b0b0b0" stroke-width="0.8"/>
<line x1="95.00" y1="186.40" x2="95.00" y2="187.80" stroke="#b0b0b0" stroke-width="0.8"/>
<line x1="98.48" y1="186.40" x2="98.48" y2="187.80" stroke="#b0b0b0" stroke-width="0.8"/>
<line x1="122.10" y1="186.40" x2="122.10" y2="187.80" stroke="#b0b0b0" stroke-width="0.8"/>
<line x1="134.09" y1="186.40" x2="134.09" y2="187.80" stroke="#b0b0b0" stroke-width="0.8"/>
<line x1="142.60" y1="186.40" x2="142.60" y2="187.80" stroke="#b0b0b0" stroke-width="0.8"/>
<line x1="149.20" y1="186.40" x2="149.20" y2="187.80" stroke="#b0b0b0" stroke-width="0.8"/>
<line x1="154.59" y1="186.40" x2="154.59" y2="187.80" stroke="#b0b0b0" stroke-width="0.8"/>
<line x1="159.15" y1="186.40" x2="159.15" y2="187.80" stroke="#b0b0b0" stroke-width="0.8"/>
<line x1="163.10" y1="186.40" x2="163.10" y2="187.80" stroke="#b0b0b0" stroke-width="0.8"/>
<line x1="166.58" y1="186.40" x2="166.58" y2="187.80" stroke="#b0b0b0" stroke-width="0.8"/>
<line x1="190.20" y1="186.40" x2="190.20" y2="187.80" stroke="#b0b0b0" stroke-width="0.8"/>
<line x1="202.19" y1="186.40" x2="202.19" y2="187.80" stroke="#b0b0b0" stroke-width="0.8"/>
<line x1="210.70" y1="186.40" x2="210.70" y2="187.80" stroke="#b0b0b0" stroke-width="0.8"/>
<line x1="217.30" y1="186.40" x2="217.30" y2="187.80" stroke="#b0b0b0" stroke-width="0.8"/>
<line x1="222.69" y1="186.40" x2="222.69" y2="187.80" stroke="#b0b0b0" stroke-width="0.8"/>
<line x1="227.25" y1="186.40" x2="227.25" y2="187.80" stroke="#b0b0b0" stroke-width="0.8"/>
<line x1="231.20" y1="186.40" x2="231.20" y2="187.80" stroke="#b0b0b0" stroke-width="0.8"/>
<line x1="234.68" y1="186.40" x2="234.68" y2="187.80" stroke="#b0b0b0" stroke-width="0.8"/>
<line x1="31.30" y1="186.40" x2="33.50" y2="186.40" stroke="#808080" stroke-width="1"/>
<line x1="31.30" y1="151.56" x2="33.50" y2="151.56" stroke="#808080" stroke-width="1"/>
<line x1="31.30" y1="116.72" x2="33.50" y2="116.72" stroke="#808080" stroke-width="1"/>
<line x1="31.30" y1="81.88" x2="33.50" y2="81.88" stroke="#808080" stroke-width="1"/>
<line x1="31.30" y1="47.04" x2="33.50" y2="47.04" stroke="#808080" stroke-width="1"/>
<line x1="31.30" y1="12.20" x2="33.50" y2="12.20" stroke="#808080" stroke-width="1"/>
<text class="s" x="23.50" y="190.15" font-size="10.2" textLength="6.00" lengthAdjust="spacingAndGlyphs">0</text>
<text class="s" x="23.50" y="155.31" font-size="10.2" textLength="6.00" lengthAdjust="spacingAndGlyphs">1</text>
<text class="s" x="23.50" y="120.47" font-size="10.2" textLength="6.00" lengthAdjust="spacingAndGlyphs">2</text>
<text class="s" x="23.50" y="85.63" font-size="10.2" textLength="6.00" lengthAdjust="spacingAndGlyphs">3</text>
<text class="s" x="23.50" y="50.79" font-size="10.2" textLength="6.00" lengthAdjust="spacingAndGlyphs">4</text>
<text class="s" x="23.50" y="15.95" font-size="10.2" textLength="6.00" lengthAdjust="spacingAndGlyphs">5</text>
<text class="s" x="25.50" y="197.90" font-size="10.2" textLength="11.60" lengthAdjust="spacingAndGlyphs">10</text>
<text class="s" x="37.50" y="193.70" font-size="7.0" textLength="4.20" lengthAdjust="spacingAndGlyphs">0</text>
<text class="s" x="93.60" y="197.90" font-size="10.2" textLength="11.60" lengthAdjust="spacingAndGlyphs">10</text>
<text class="s" x="105.60" y="193.70" font-size="7.0" textLength="4.20" lengthAdjust="spacingAndGlyphs">1</text>
<text class="s" x="161.70" y="197.90" font-size="10.2" textLength="11.60" lengthAdjust="spacingAndGlyphs">10</text>
<text class="s" x="173.70" y="193.70" font-size="7.0" textLength="4.20" lengthAdjust="spacingAndGlyphs">2</text>
<text class="s" x="229.80" y="197.90" font-size="10.2" textLength="11.60" lengthAdjust="spacingAndGlyphs">10</text>
<text class="s" x="241.80" y="193.70" font-size="7.0" textLength="4.20" lengthAdjust="spacingAndGlyphs">3</text>
<text class="s" x="32.90" y="10.70" font-size="10.2" textLength="23.00" lengthAdjust="spacingAndGlyphs">1e25</text>
<text class="s" x="107.30" y="8.70" font-size="11" textLength="59.50" lengthAdjust="spacingAndGlyphs">Deuterium</text>
<text class="s" x="104.50" y="209.40" font-size="10" textLength="61.00" lengthAdjust="spacingAndGlyphs">Energy (keV)</text>
<text class="s" transform="translate(19.10,148.60) rotate(-90)" font-size="10" textLength="98.10" lengthAdjust="spacingAndGlyphs">Energy density (a.u.)</text>
<text class="s" x="55.50" y="78.50" font-size="17.2" textLength="21.00" lengthAdjust="spacingAndGlyphs">(a)</text>
<rect x="147.20" y="17.70" width="86.70" height="43.10" rx="2" fill="#fff" fill-opacity="0.85" stroke="#dedede" stroke-width="1"/>
<line x1="150.10" y1="24.40" x2="169.60" y2="24.40" stroke="#555" stroke-width="1" stroke-dasharray="1 1"/>
<text class="s" x="177.50" y="27.60" font-size="9.3" textLength="23.30" lengthAdjust="spacingAndGlyphs">input</text>
<line x1="150.10" y1="38.00" x2="169.60" y2="38.00" stroke="#6e68cc" stroke-width="1.7"/>
<text class="s" x="177.50" y="41.30" font-size="9.3" textLength="51.60" lengthAdjust="spacingAndGlyphs">RF=51MHz</text>
<line x1="150.10" y1="52.00" x2="169.60" y2="52.00" stroke="#d04460" stroke-width="1.4" stroke-dasharray="3 1.2"/>
<text class="s" x="177.50" y="55.30" font-size="9.3" textLength="51.60" lengthAdjust="spacingAndGlyphs">RF=33MHz</text>
<line x1="362.57" y1="12.20" x2="362.57" y2="186.30" stroke="#d4d4d4" stroke-width="1"/>
<line x1="430.83" y1="12.20" x2="430.83" y2="186.30" stroke="#d4d4d4" stroke-width="1"/>
<line x1="294.30" y1="151.48" x2="499.10" y2="151.48" stroke="#d4d4d4" stroke-width="1"/>
<line x1="294.30" y1="116.66" x2="499.10" y2="116.66" stroke="#d4d4d4" stroke-width="1"/>
<line x1="294.30" y1="81.84" x2="499.10" y2="81.84" stroke="#d4d4d4" stroke-width="1"/>
<line x1="294.30" y1="47.02" x2="499.10" y2="47.02" stroke="#d4d4d4" stroke-width="1"/>
<path d="M294.30,183.80 294.89,183.71 295.48,183.62 296.08,183.52 296.67,183.42 297.26,183.32 297.85,183.21 298.44,183.10 299.02,182.99 299.61,182.87 300.20,182.75 300.78,182.62 301.37,182.50 301.95,182.36 302.54,182.22 303.12,182.08 303.70,181.94 304.28,181.78 304.86,181.63 305.44,181.47 306.01,181.30 306.59,181.13 307.16,180.96 307.73,180.78 308.30,180.59 308.87,180.40 309.44,180.20 310.00,180.00 310.56,179.79 311.12,179.58 311.68,179.36 312.24,179.14 312.79,178.91 313.34,178.67 313.89,178.43 314.43,178.18 314.98,177.93 315.52,177.66 316.05,177.40 316.59,177.13 317.12,176.85 317.64,176.56 318.17,176.27 318.69,175.98 319.21,175.67 319.72,175.37 320.23,175.05 320.74,174.73 321.24,174.40 321.74,174.07 322.23,173.73 322.72,173.39 323.21,173.04 323.69,172.69 324.17,172.33 324.65,171.96 325.12,171.59 325.59,171.21 326.05,170.83 326.51,170.45 326.96,170.06 327.41,169.66 327.86,169.26 328.30,168.85 328.73,168.44 329.17,168.03 329.60,167.61 330.02,167.19 330.44,166.76 330.86,166.33 331.27,165.90 331.68,165.46 332.08,165.01 332.48,164.57 332.88,164.12 333.27,163.67 333.66,163.21 334.05,162.75 334.43,162.29 334.81,161.82 335.18,161.36 335.55,160.88 335.92,160.41 336.28,159.93 336.64,159.45 337.00,158.97 337.35,158.49 337.70,158.00 338.05,157.51 338.39,157.02 338.73,156.53 339.07,156.03 339.40,155.54 339.73,155.04 340.06,154.54 340.39,154.03 340.71,153.53 341.03,153.02 341.35,152.51 341.66,152.00 341.97,151.49 342.28,150.98 342.59,150.46 342.89,149.95 343.19,149.43 343.49,148.91 343.79,148.39 344.09,147.87 344.38,147.34 344.67,146.82 344.96,146.29 345.24,145.77 345.53,145.24 345.81,144.71 346.09,144.18 346.37,143.65 346.65,143.12 346.92,142.59 347.19,142.05 347.46,141.52 347.73,140.98 348.00,140.45 348.27,139.91 348.53,139.37 348.79,138.83 349.05,138.29 349.31,137.75 349.57,137.21 349.83,136.67 350.08,136.13 350.34,135.59 350.59,135.04 350.84,134.50 351.09,133.95 351.34,133.41 351.59,132.86 351.83,132.32 352.08,131.77 352.32,131.22 352.56,130.67 352.81,130.12 353.05,129.58 353.29,129.03 353.52,128.48 353.76,127.93 354.00,127.38 354.23,126.83 354.47,126.27 354.70,125.72 354.93,125.17 355.17,124.62 355.40,124.06 355.63,123.51 355.86,122.96 356.09,122.40 356.32,121.85 356.54,121.30 356.77,120.74 357.00,120.19 357.22,119.63 357.45,119.08 357.67,118.52 357.90,117.96 358.12,117.41 358.35,116.85 358.57,116.30 358.79,115.74 359.01,115.18 359.23,114.63 359.46,114.07 359.68,113.51 359.90,112.96 360.12,112.40 360.34,111.84 360.56,111.28 360.78,110.73 361.00,110.17 361.22,109.61 361.44,109.05 361.66,108.50 361.88,107.94 362.09,107.38 362.31,106.82 362.53,106.26 362.75,105.71 362.97,105.15 363.19,104.59 363.41,104.03 363.63,103.48 363.85,102.92 364.07,102.36 364.29,101.80 364.51,101.25 364.73,100.69 364.96,100.13 365.18,99.58 365.40,99.02 365.62,98.46 365.85,97.91 366.07,97.35 366.30,96.80 366.52,96.24 366.75,95.69 366.97,95.13 367.20,94.58 367.43,94.02 367.66,93.47 367.89,92.92 368.12,92.36 368.36,91.81 368.59,91.26 368.83,90.71 369.06,90.16 369.30,89.61 369.54,89.06 369.78,88.51 370.03,87.96 370.27,87.42 370.52,86.87 370.77,86.33 371.02,85.78 371.27,85.24 371.53,84.70 371.79,84.16 372.05,83.62 372.31,83.08 372.58,82.54 372.85,82.01 373.12,81.48 373.40,80.95 373.68,80.42 373.97,79.89 374.26,79.37 374.56,78.85 374.86,78.33 375.17,77.81 375.48,77.30 375.80,76.80 376.13,76.30 376.47,75.80 376.82,75.31 377.17,74.83 377.54,74.36 377.92,73.89 378.32,73.44 378.73,73.01 379.15,72.58 379.60,72.18 380.07,71.81 380.56,71.46 381.07,71.16 381.61,70.90 382.18,70.71 382.76,70.58 383.36,70.54 383.96,70.60 384.54,70.74 385.10,70.96 385.62,71.25 386.11,71.60 386.57,71.98 387.00,72.39 387.41,72.83 387.79,73.29 388.16,73.77 388.51,74.26 388.84,74.76 389.15,75.27 389.46,75.78 389.75,76.30 390.04,76.83 390.31,77.36 390.58,77.90 390.84,78.44 391.09,78.98 391.34,79.53 391.58,80.08 391.81,80.63 392.04,81.19 392.26,81.74 392.48,82.30 392.70,82.86 392.91,83.42 393.12,83.98 393.32,84.54 393.52,85.11 393.72,85.67 393.92,86.24 394.11,86.81 394.30,87.38 394.49,87.95 394.67,88.52 394.85,89.09 395.03,89.66 395.21,90.23 395.39,90.80 395.56,91.38 395.73,91.95 395.90,92.53 396.07,93.10 396.24,93.68 396.41,94.25 396.57,94.83 396.73,95.40 396.90,95.98 397.06,96.56 397.22,97.14 397.38,97.71 397.53,98.29 397.69,98.87 397.84,99.45 398.00,100.03 398.15,100.61 398.30,101.19 398.45,101.77 398.61,102.35 398.75,102.93 398.90,103.51 399.05,104.09 399.20,104.67 399.35,105.25 399.49,105.83 399.64,106.41 399.78,107.00 399.93,107.58 400.07,108.16 400.22,108.74 400.36,109.32 400.50,109.91 400.64,110.49 400.78,111.07 400.93,111.65 401.07,112.23 401.21,112.82 401.35,113.40 401.49,113.98 401.63,114.57 401.77,115.15 401.90,115.73 402.04,116.31 402.18,116.90 402.32,117.48 402.46,118.06 402.60,118.65 402.73,119.23 402.87,119.81 403.01,120.40 403.15,120.98 403.28,121.56 403.42,122.15 403.56,122.73 403.70,123.31 403.83,123.90 403.97,124.48 404.11,125.06 404.25,125.65 404.38,126.23 404.52,126.81 404.66,127.40 404.80,127.98 404.93,128.56 405.07,129.15 405.21,129.73 405.35,130.31 405.49,130.89 405.63,131.48 405.77,132.06 405.90,132.64 406.04,133.23 406.18,133.81 406.32,134.39 406.46,134.97 406.61,135.56 406.75,136.14 406.89,136.72 407.03,137.30 407.17,137.89 407.31,138.47 407.46,139.05 407.60,139.63 407.75,140.21 407.89,140.80 408.04,141.38 408.18,141.96 408.33,142.54 408.48,143.12 408.62,143.70 408.77,144.28 408.92,144.86 409.07,145.44 409.22,146.02 409.37,146.60 409.53,147.18 409.68,147.76 409.83,148.34 409.99,148.92 410.14,149.50 410.30,150.08 410.46,150.65 410.62,151.23 410.78,151.81 410.94,152.39 411.10,152.96 411.27,153.54 411.43,154.12 411.60,154.69 411.77,155.27 411.94,155.84 412.11,156.42 412.28,156.99 412.45,157.56 412.63,158.14 412.81,158.71 412.99,159.28 413.17,159.85 413.35,160.42 413.53,160.99 413.72,161.56 413.91,162.13 414.10,162.70 414.30,163.26 414.49,163.83 414.69,164.40 414.90,164.96 415.10,165.52 415.31,166.08 415.52,166.65 415.73,167.21 415.95,167.76 416.17,168.32 416.40,168.88 416.63,169.43 416.86,169.98 417.10,170.53 417.34,171.08 417.59,171.63 417.84,172.17 418.10,172.71 418.36,173.25 418.63,173.78 418.91,174.32 419.19,174.84 419.48,175.37 419.78,175.89 420.08,176.40 420.40,176.92 420.72,177.42 421.05,177.92 421.39,178.41 421.75,178.90 422.11,179.37 422.49,179.84 422.87,180.30 423.27,180.74 423.69,181.18 424.11,181.60 424.56,182.00 425.01,182.39 425.48,182.76 425.97,183.11 426.46,183.45 426.98,183.76 427.50,184.05 428.03,184.32 428.58,184.57 429.14,184.79 429.70,184.99 430.27,185.17 430.85,185.33 431.43,185.48 432.02,185.60 432.61,185.71 433.20,185.81 433.79,185.89 434.39,185.96 434.98,186.02 435.58,186.07 436.18,186.11 436.78,186.14 437.38,186.17 437.97,186.20 438.57,186.22 439.17,186.23 439.77,186.25 440.37,186.26 440.97,186.27 441.57,186.27 442.17,186.28 442.77,186.28 443.37,186.29 443.97,186.29 444.57,186.29 445.16,186.30 445.76,186.30 446.36,186.30 446.96,186.30 447.56,186.30 448.16,186.30 448.76,186.30 449.36,186.30 449.96,186.30 450.56,186.30 451.16,186.30 451.76,186.30 452.36,186.30 452.96,186.30 453.55,186.30 454.15,186.30 454.75,186.30 455.35,186.30 455.95,186.30 456.55,186.30 457.15,186.30 457.75,186.30 458.35,186.30 458.95,186.30 459.55,186.30 460.15,186.30 460.75,186.30 461.35,186.30 461.94,186.30 462.54,186.30 463.14,186.30 463.74,186.30 464.34,186.30 464.94,186.30 465.54,186.30 466.14,186.30 466.74,186.30 467.34,186.30 467.94,186.30 468.54,186.30 469.14,186.30 469.74,186.30 470.33,186.30 470.93,186.30 471.53,186.30 472.13,186.30 472.73,186.30 473.33,186.30 473.93,186.30 474.53,186.30 475.13,186.30 475.73,186.30 476.33,186.30 476.93,186.30 477.53,186.30 478.13,186.30 478.72,186.30 479.32,186.30 479.92,186.30 480.52,186.30 481.12,186.30 481.72,186.30 482.32,186.30 482.92,186.30 483.52,186.30 484.12,186.30 484.72,186.30 485.32,186.30 485.92,186.30 486.52,186.30 487.11,186.30 487.71,186.30 488.31,186.30 488.91,186.30 489.51,186.30 490.11,186.30 490.71,186.30 491.31,186.30 491.91,186.30 492.51,186.30 493.11,186.30 493.71,186.30 494.31,186.30 494.91,186.30 495.50,186.30 496.10,186.30 496.70,186.30 497.30,186.30 497.90,186.30 498.50,186.30 499.10,186.30" fill="none" stroke="#444" stroke-width="0.9" stroke-dasharray="0.9 1.1" clip-path="url(#clipb)"/>
<path d="M294.30,184.18 294.90,184.11 295.49,184.04 296.09,183.97 296.68,183.89 297.27,183.81 297.87,183.73 298.46,183.65 299.05,183.56 299.65,183.47 300.24,183.38 300.83,183.28 301.42,183.18 302.01,183.08 302.60,182.97 303.19,182.86 303.78,182.75 304.37,182.63 304.95,182.51 305.54,182.39 306.13,182.26 306.71,182.13 307.29,181.99 307.88,181.85 308.46,181.70 309.04,181.55 309.62,181.39 310.19,181.23 310.77,181.07 311.34,180.90 311.92,180.72 312.49,180.54 313.06,180.36 313.63,180.16 314.19,179.97 314.76,179.76 315.32,179.56 315.88,179.34 316.44,179.12 316.99,178.90 317.54,178.67 318.09,178.43 318.64,178.19 319.19,177.94 319.73,177.68 320.27,177.42 320.80,177.15 321.34,176.88 321.87,176.60 322.39,176.31 322.92,176.02 323.44,175.72 323.95,175.42 324.47,175.11 324.97,174.79 325.48,174.47 325.98,174.14 326.48,173.80 326.97,173.46 327.46,173.12 327.95,172.76 328.43,172.41 328.90,172.04 329.38,171.68 329.84,171.30 330.31,170.92 330.77,170.54 331.22,170.15 331.67,169.75 332.12,169.35 332.56,168.95 333.00,168.54 333.44,168.13 333.87,167.71 334.29,167.29 334.71,166.86 335.13,166.43 335.54,166.00 335.95,165.56 336.36,165.12 336.76,164.67 337.15,164.22 337.55,163.77 337.93,163.31 338.32,162.85 338.70,162.39 339.08,161.92 339.45,161.45 339.82,160.98 340.18,160.51 340.55,160.03 340.91,159.55 341.26,159.07 341.61,158.58 341.96,158.09 342.31,157.60 342.65,157.11 342.99,156.62 343.32,156.12 343.65,155.62 343.98,155.12 344.31,154.62 344.63,154.11 344.95,153.61 345.27,153.10 345.58,152.59 345.90,152.08 346.21,151.56 346.51,151.05 346.82,150.53 347.12,150.01 347.42,149.49 347.71,148.97 348.01,148.45 348.30,147.93 348.59,147.40 348.87,146.88 349.16,146.35 349.44,145.82 349.72,145.29 350.00,144.76 350.28,144.23 350.55,143.70 350.83,143.16 351.10,142.63 351.37,142.09 351.63,141.56 351.90,141.02 352.16,140.48 352.42,139.94 352.68,139.40 352.94,138.86 353.20,138.32 353.45,137.78 353.71,137.23 353.96,136.69 354.21,136.15 354.46,135.60 354.71,135.06 354.95,134.51 355.20,133.96 355.44,133.41 355.68,132.87 355.92,132.32 356.16,131.77 356.40,131.22 356.64,130.67 356.88,130.12 357.11,129.57 357.35,129.01 357.58,128.46 357.81,127.91 358.04,127.36 358.27,126.80 358.50,126.25 358.73,125.70 358.96,125.14 359.18,124.59 359.41,124.03 359.63,123.47 359.86,122.92 360.08,122.36 360.30,121.81 360.52,121.25 360.74,120.69 360.96,120.13 361.18,119.58 361.40,119.02 361.62,118.46 361.84,117.90 362.05,117.34 362.27,116.78 362.49,116.22 362.70,115.67 362.92,115.11 363.13,114.55 363.34,113.99 363.56,113.43 363.77,112.87 363.98,112.31 364.20,111.75 364.41,111.18 364.62,110.62 364.83,110.06 365.04,109.50 365.25,108.94 365.46,108.38 365.67,107.82 365.88,107.26 366.09,106.70 366.30,106.13 366.51,105.57 366.72,105.01 366.93,104.45 367.14,103.89 367.35,103.33 367.56,102.77 367.77,102.20 367.98,101.64 368.19,101.08 368.40,100.52 368.61,99.96 368.82,99.40 369.03,98.84 369.24,98.28 369.45,97.71 369.66,97.15 369.88,96.59 370.09,96.03 370.30,95.47 370.51,94.91 370.73,94.35 370.94,93.79 371.16,93.23 371.37,92.67 371.59,92.11 371.80,91.56 372.02,91.00 372.24,90.44 372.46,89.88 372.68,89.32 372.90,88.77 373.12,88.21 373.34,87.65 373.57,87.10 373.79,86.54 374.02,85.99 374.25,85.43 374.48,84.88 374.71,84.33 374.94,83.77 375.17,83.22 375.41,82.67 375.65,82.12 375.89,81.57 376.13,81.02 376.37,80.48 376.62,79.93 376.87,79.38 377.12,78.84 377.37,78.30 377.63,77.76 377.89,77.22 378.16,76.68 378.43,76.14 378.70,75.61 378.97,75.08 379.26,74.55 379.54,74.02 379.83,73.50 380.13,72.98 380.43,72.46 380.74,71.95 381.06,71.44 381.38,70.93 381.72,70.44 382.06,69.95 382.42,69.46 382.78,68.99 383.16,68.53 383.56,68.08 383.97,67.64 384.40,67.22 384.85,66.83 385.33,66.47 385.83,66.14 386.36,65.86 386.92,65.63 387.50,65.48 388.09,65.42 388.69,65.44 389.28,65.54 389.85,65.71 390.41,65.94 390.93,66.23 391.43,66.56 391.90,66.93 392.35,67.32 392.78,67.74 393.19,68.18 393.58,68.64 393.95,69.11 394.30,69.59 394.65,70.08 394.98,70.58 395.30,71.09 395.61,71.60 395.91,72.12 396.20,72.64 396.48,73.17 396.76,73.70 397.03,74.24 397.30,74.78 397.55,75.32 397.81,75.86 398.05,76.41 398.30,76.95 398.54,77.50 398.77,78.06 399.00,78.61 399.23,79.16 399.45,79.72 399.67,80.28 399.89,80.84 400.10,81.39 400.31,81.96 400.52,82.52 400.73,83.08 400.93,83.64 401.13,84.21 401.33,84.77 401.53,85.34 401.73,85.91 401.92,86.47 402.11,87.04 402.30,87.61 402.49,88.18 402.68,88.75 402.86,89.32 403.05,89.89 403.23,90.46 403.41,91.03 403.59,91.60 403.77,92.17 403.95,92.75 404.12,93.32 404.30,93.89 404.47,94.47 404.65,95.04 404.82,95.61 404.99,96.19 405.16,96.76 405.33,97.34 405.50,97.91 405.67,98.49 405.84,99.06 406.01,99.64 406.17,100.21 406.34,100.79 406.51,101.36 406.67,101.94 406.84,102.52 407.00,103.09 407.17,103.67 407.33,104.25 407.49,104.82 407.66,105.40 407.82,105.98 407.98,106.55 408.14,107.13 408.30,107.71 408.47,108.28 408.63,108.86 408.79,109.44 408.95,110.02 409.11,110.59 409.27,111.17 409.43,111.75 409.59,112.32 409.75,112.90 409.92,113.48 410.08,114.06 410.24,114.63 410.40,115.21 410.56,115.79 410.72,116.37 410.88,116.94 411.04,117.52 411.20,118.10 411.36,118.67 411.53,119.25 411.69,119.83 411.85,120.41 412.01,120.98 412.18,121.56 412.34,122.14 412.50,122.71 412.67,123.29 412.83,123.87 413.00,124.44 413.16,125.02 413.33,125.59 413.49,126.17 413.66,126.75 413.83,127.32 413.99,127.90 414.16,128.47 414.33,129.05 414.50,129.62 414.67,130.20 414.84,130.77 415.01,131.34 415.18,131.92 415.36,132.49 415.53,133.07 415.71,133.64 415.88,134.21 416.06,134.79 416.23,135.36 416.41,135.93 416.59,136.50 416.77,137.07 416.95,137.65 417.14,138.22 417.32,138.79 417.50,139.36 417.69,139.93 417.88,140.50 418.06,141.07 418.25,141.63 418.44,142.20 418.64,142.77 418.83,143.34 419.03,143.90 419.22,144.47 419.42,145.04 419.62,145.60 419.82,146.16 420.03,146.73 420.23,147.29 420.44,147.85 420.65,148.42 420.86,148.98 421.07,149.54 421.28,150.10 421.50,150.66 421.72,151.21 421.94,151.77 422.17,152.33 422.39,152.88 422.62,153.43 422.85,153.99 423.09,154.54 423.32,155.09 423.56,155.64 423.80,156.19 424.05,156.73 424.30,157.28 424.55,157.82 424.80,158.37 425.06,158.91 425.32,159.45 425.59,159.99 425.85,160.52 426.13,161.05 426.40,161.59 426.68,162.12 426.97,162.64 427.25,163.17 427.55,163.69 427.84,164.21 428.15,164.73 428.45,165.25 428.76,165.76 429.08,166.27 429.40,166.78 429.72,167.28 430.05,167.78 430.39,168.28 430.73,168.77 431.08,169.26 431.43,169.74 431.79,170.22 432.15,170.70 432.52,171.17 432.90,171.64 433.28,172.10 433.67,172.55 434.06,173.01 434.46,173.45 434.87,173.89 435.29,174.32 435.71,174.75 436.13,175.17 436.57,175.58 437.01,175.99 437.46,176.39 437.91,176.78 438.37,177.16 438.84,177.54 439.31,177.90 439.80,178.26 440.28,178.61 440.78,178.95 441.28,179.27 441.79,179.59 442.30,179.90 442.82,180.20 443.35,180.48 443.88,180.76 444.42,181.02 444.96,181.28 445.51,181.52 446.06,181.75 446.62,181.97 447.19,182.17 447.75,182.37 448.32,182.55 448.90,182.72 449.47,182.88 450.06,183.03 450.64,183.17 451.22,183.29 451.81,183.41 452.40,183.52 452.99,183.62 453.59,183.71 454.18,183.79 454.77,183.86 455.37,183.93 455.97,183.98 456.56,184.04 457.16,184.08 457.76,184.12 458.36,184.16 458.96,184.19 459.55,184.21 460.15,184.23 460.75,184.25 461.35,184.26 461.95,184.27 462.55,184.28 463.15,184.29 463.75,184.29 464.35,184.29 464.95,184.29 465.55,184.29 466.15,184.28 466.75,184.28 467.34,184.27 467.94,184.26 468.54,184.25 469.14,184.25 469.74,184.24 470.34,184.23 470.94,184.22 471.54,184.21 472.14,184.19 472.74,184.18 473.34,184.17 473.94,184.16 474.54,184.15 475.13,184.13 475.73,184.12 476.33,184.11 476.93,184.09 477.53,184.08 478.13,184.07 478.73,184.05 479.33,184.04 479.93,184.03 480.53,184.01 481.13,184.00 481.73,183.99 482.32,183.97 482.92,183.96 483.52,183.94 484.12,183.93 484.72,183.91 485.32,183.90 485.92,183.88 486.52,183.87 487.12,183.86 487.72,183.84 488.32,183.83 488.92,183.81 489.51,183.80 490.11,183.78 490.71,183.76 491.31,183.75 491.91,183.73 492.51,183.72 493.11,183.70 493.71,183.69 494.31,183.67 494.91,183.65 495.51,183.64 496.10,183.62 496.70,183.61 497.30,183.59 497.90,183.57 498.50,183.56 499.10,183.54" fill="none" stroke="#d03a52" stroke-width="1.2" stroke-dasharray="3 1.3" clip-path="url(#clipb)"/>
<path d="M294.30,184.39 294.90,184.32 295.49,184.24 296.08,184.17 296.68,184.09 297.27,184.01 297.87,183.92 298.46,183.84 299.05,183.75 299.64,183.65 300.23,183.56 300.83,183.46 301.42,183.35 302.01,183.25 302.59,183.14 303.18,183.02 303.77,182.91 304.36,182.78 304.94,182.66 305.53,182.53 306.11,182.39 306.70,182.26 307.28,182.11 307.86,181.97 308.44,181.81 309.02,181.66 309.59,181.50 310.17,181.33 310.74,181.16 311.32,180.98 311.89,180.80 312.46,180.61 313.02,180.42 313.59,180.22 314.15,180.02 314.71,179.81 315.27,179.59 315.83,179.37 316.38,179.14 316.94,178.91 317.49,178.67 318.03,178.42 318.58,178.17 319.12,177.92 319.66,177.65 320.19,177.38 320.72,177.11 321.25,176.82 321.78,176.54 322.30,176.24 322.82,175.94 323.33,175.63 323.84,175.32 324.35,175.00 324.85,174.68 325.35,174.35 325.85,174.01 326.34,173.67 326.83,173.32 327.31,172.96 327.79,172.60 328.27,172.24 328.74,171.87 329.20,171.49 329.67,171.11 330.12,170.72 330.58,170.33 331.03,169.94 331.47,169.53 331.91,169.13 332.35,168.72 332.78,168.30 333.21,167.88 333.63,167.46 334.05,167.03 334.46,166.60 334.88,166.16 335.28,165.72 335.68,165.28 336.08,164.83 336.48,164.38 336.87,163.92 337.25,163.46 337.64,163.00 338.01,162.54 338.39,162.07 338.76,161.60 339.13,161.13 339.49,160.65 339.85,160.17 340.21,159.69 340.56,159.20 340.91,158.72 341.25,158.23 341.60,157.73 341.93,157.24 342.27,156.74 342.60,156.25 342.93,155.75 343.26,155.24 343.58,154.74 343.90,154.23 344.22,153.72 344.54,153.21 344.85,152.70 345.16,152.19 345.46,151.67 345.77,151.16 346.07,150.64 346.37,150.12 346.66,149.60 346.96,149.08 347.25,148.55 347.54,148.03 347.82,147.50 348.11,146.97 348.39,146.45 348.67,145.92 348.95,145.38 349.22,144.85 349.50,144.32 349.77,143.79 350.04,143.25 350.31,142.71 350.57,142.18 350.84,141.64 351.10,141.10 351.36,140.56 351.62,140.02 351.87,139.48 352.13,138.94 352.38,138.39 352.64,137.85 352.89,137.30 353.13,136.76 353.38,136.21 353.63,135.67 353.87,135.12 354.11,134.57 354.36,134.02 354.60,133.47 354.83,132.92 355.07,132.37 355.31,131.82 355.54,131.27 355.78,130.72 356.01,130.17 356.24,129.62 356.47,129.06 356.70,128.51 356.93,127.95 357.16,127.40 357.38,126.84 357.61,126.29 357.83,125.73 358.05,125.18 358.27,124.62 358.50,124.06 358.72,123.51 358.94,122.95 359.15,122.39 359.37,121.83 359.59,121.27 359.80,120.71 360.02,120.15 360.23,119.59 360.45,119.04 360.66,118.47 360.87,117.91 361.08,117.35 361.30,116.79 361.51,116.23 361.72,115.67 361.92,115.11 362.13,114.55 362.34,113.99 362.55,113.42 362.76,112.86 362.96,112.30 363.17,111.74 363.38,111.17 363.58,110.61 363.79,110.05 363.99,109.48 364.19,108.92 364.40,108.36 364.60,107.79 364.81,107.23 365.01,106.67 365.21,106.10 365.41,105.54 365.62,104.97 365.82,104.41 366.02,103.84 366.22,103.28 366.42,102.72 366.62,102.15 366.83,101.59 367.03,101.02 367.23,100.46 367.43,99.89 367.63,99.33 367.83,98.77 368.03,98.20 368.24,97.64 368.44,97.07 368.64,96.51 368.84,95.94 369.04,95.38 369.24,94.81 369.45,94.25 369.65,93.69 369.85,93.12 370.06,92.56 370.26,92.00 370.46,91.43 370.67,90.87 370.87,90.31 371.08,89.74 371.28,89.18 371.49,88.62 371.70,88.05 371.90,87.49 372.11,86.93 372.32,86.37 372.53,85.81 372.74,85.25 372.95,84.69 373.16,84.13 373.38,83.57 373.59,83.01 373.81,82.45 374.02,81.89 374.24,81.33 374.46,80.77 374.68,80.21 374.90,79.66 375.12,79.10 375.35,78.54 375.57,77.99 375.80,77.43 376.03,76.88 376.26,76.33 376.50,75.78 376.73,75.23 376.97,74.68 377.21,74.13 377.45,73.58 377.70,73.03 377.95,72.49 378.20,71.94 378.45,71.40 378.71,70.86 378.97,70.32 379.24,69.78 379.51,69.25 379.78,68.72 380.06,68.19 380.35,67.66 380.64,67.13 380.93,66.61 381.24,66.10 381.55,65.59 381.87,65.08 382.20,64.58 382.54,64.08 382.88,63.60 383.25,63.12 383.62,62.65 384.01,62.19 384.42,61.76 384.85,61.34 385.30,60.94 385.77,60.57 386.27,60.24 386.80,59.96 387.36,59.75 387.94,59.61 388.54,59.56 389.13,59.60 389.71,59.75 390.26,59.99 390.78,60.29 391.26,60.64 391.71,61.04 392.13,61.47 392.53,61.92 392.90,62.39 393.25,62.87 393.59,63.37 393.91,63.87 394.22,64.39 394.51,64.91 394.79,65.44 395.07,65.97 395.33,66.51 395.59,67.05 395.84,67.60 396.08,68.14 396.32,68.69 396.55,69.25 396.77,69.80 396.99,70.36 397.20,70.92 397.42,71.48 397.62,72.04 397.82,72.61 398.02,73.17 398.22,73.74 398.41,74.31 398.60,74.88 398.79,75.45 398.97,76.02 399.15,76.59 399.33,77.16 399.51,77.73 399.68,78.31 399.85,78.88 400.02,79.45 400.19,80.03 400.36,80.60 400.52,81.18 400.69,81.76 400.85,82.33 401.01,82.91 401.17,83.49 401.32,84.07 401.48,84.65 401.63,85.23 401.79,85.81 401.94,86.39 402.09,86.97 402.24,87.55 402.38,88.13 402.53,88.71 402.68,89.29 402.82,89.87 402.97,90.45 403.11,91.03 403.25,91.62 403.40,92.20 403.54,92.78 403.68,93.36 403.82,93.95 403.96,94.53 404.09,95.11 404.23,95.70 404.37,96.28 404.50,96.86 404.64,97.45 404.78,98.03 404.91,98.61 405.04,99.20 405.18,99.78 405.31,100.37 405.44,100.95 405.58,101.54 405.71,102.12 405.84,102.70 405.97,103.29 406.10,103.87 406.23,104.46 406.36,105.04 406.49,105.63 406.62,106.21 406.75,106.80 406.88,107.39 407.01,107.97 407.14,108.56 407.26,109.14 407.39,109.73 407.52,110.31 407.65,110.90 407.77,111.48 407.90,112.07 408.03,112.65 408.16,113.24 408.28,113.83 408.41,114.41 408.54,115.00 408.66,115.58 408.79,116.17 408.92,116.75 409.04,117.34 409.17,117.93 409.30,118.51 409.42,119.10 409.55,119.68 409.68,120.27 409.80,120.85 409.93,121.44 410.06,122.03 410.18,122.61 410.31,123.20 410.44,123.78 410.57,124.37 410.69,124.95 410.82,125.54 410.95,126.12 411.08,126.71 411.21,127.30 411.33,127.88 411.46,128.47 411.59,129.05 411.72,129.64 411.85,130.22 411.98,130.81 412.11,131.39 412.24,131.98 412.37,132.56 412.50,133.15 412.64,133.73 412.77,134.32 412.90,134.90 413.03,135.48 413.17,136.07 413.30,136.65 413.43,137.24 413.57,137.82 413.70,138.40 413.84,138.99 413.98,139.57 414.11,140.15 414.25,140.74 414.39,141.32 414.53,141.90 414.67,142.49 414.81,143.07 414.95,143.65 415.09,144.23 415.23,144.82 415.38,145.40 415.52,145.98 415.66,146.56 415.81,147.14 415.96,147.72 416.10,148.30 416.25,148.89 416.40,149.47 416.55,150.05 416.70,150.63 416.86,151.20 417.01,151.78 417.17,152.36 417.32,152.94 417.48,153.52 417.64,154.10 417.80,154.67 417.96,155.25 418.13,155.83 418.29,156.40 418.46,156.98 418.63,157.56 418.80,158.13 418.97,158.70 419.14,159.28 419.32,159.85 419.49,160.42 419.67,160.99 419.85,161.57 420.04,162.14 420.22,162.71 420.41,163.27 420.61,163.84 420.80,164.41 421.00,164.98 421.20,165.54 421.40,166.10 421.60,166.67 421.81,167.23 422.03,167.79 422.24,168.35 422.46,168.91 422.69,169.46 422.92,170.02 423.15,170.57 423.39,171.12 423.63,171.67 423.88,172.21 424.13,172.75 424.39,173.29 424.65,173.83 424.93,174.37 425.20,174.90 425.49,175.42 425.78,175.95 426.08,176.46 426.39,176.98 426.71,177.48 427.04,177.99 427.38,178.48 427.73,178.97 428.09,179.44 428.47,179.91 428.85,180.37 429.25,180.82 429.66,181.25 430.09,181.67 430.53,182.08 430.99,182.47 431.46,182.84 431.94,183.19 432.44,183.52 432.95,183.83 433.48,184.12 434.02,184.39 434.56,184.63 435.12,184.85 435.69,185.05 436.26,185.22 436.84,185.38 437.42,185.52 438.01,185.64 438.60,185.75 439.19,185.84 439.78,185.91 440.38,185.98 440.98,186.04 441.57,186.08 442.17,186.12 442.77,186.16 443.37,186.18 443.97,186.21 444.57,186.23 445.17,186.24 445.76,186.25 446.36,186.26 446.96,186.27 447.56,186.28 448.16,186.28 448.76,186.29 449.36,186.29 449.96,186.29 450.56,186.29 451.16,186.30 451.76,186.30 452.36,186.30 452.96,186.30 453.56,186.30 454.15,186.30 454.75,186.30 455.35,186.30 455.95,186.30 456.55,186.30 457.15,186.30 457.75,186.30 458.35,186.30 458.95,186.30 459.55,186.30 460.15,186.30 460.75,186.30 461.35,186.30 461.95,186.30 462.54,186.30 463.14,186.30 463.74,186.30 464.34,186.30 464.94,186.30 465.54,186.30 466.14,186.30 466.74,186.30 467.34,186.30 467.94,186.30 468.54,186.30 469.14,186.30 469.74,186.30 470.33,186.30 470.93,186.30 471.53,186.30 472.13,186.30 472.73,186.30 473.33,186.30 473.93,186.30 474.53,186.30 475.13,186.30 475.73,186.30 476.33,186.30 476.93,186.30 477.53,186.30 478.13,186.30 478.72,186.30 479.32,186.30 479.92,186.30 480.52,186.30 481.12,186.30 481.72,186.30 482.32,186.30 482.92,186.30 483.52,186.30 484.12,186.30 484.72,186.30 485.32,186.30 485.92,186.30 486.52,186.30 487.11,186.30 487.71,186.30 488.31,186.30 488.91,186.30 489.51,186.30 490.11,186.30 490.71,186.30 491.31,186.30 491.91,186.30 492.51,186.30 493.11,186.30 493.71,186.30 494.31,186.30 494.91,186.30 495.50,186.30 496.10,186.30 496.70,186.30 497.30,186.30 497.90,186.30 498.50,186.30 499.10,186.30" fill="none" stroke="#5548c8" stroke-width="1.25" clip-path="url(#clipb)"/>
<rect x="294.30" y="12.20" width="204.80" height="174.10" fill="none" stroke="#7a7a7a" stroke-width="1.1" stroke-opacity="0.9"/>
<line x1="294.30" y1="186.30" x2="294.30" y2="188.50" stroke="#808080" stroke-width="1"/>
<line x1="362.57" y1="186.30" x2="362.57" y2="188.50" stroke="#808080" stroke-width="1"/>
<line x1="430.83" y1="186.30" x2="430.83" y2="188.50" stroke="#808080" stroke-width="1"/>
<line x1="499.10" y1="186.30" x2="499.10" y2="188.50" stroke="#808080" stroke-width="1"/>
<line x1="314.85" y1="186.30" x2="314.85" y2="187.70" stroke="#b0b0b0" stroke-width="0.8"/>
<line x1="326.87" y1="186.30" x2="326.87" y2="187.70" stroke="#b0b0b0" stroke-width="0.8"/>
<line x1="335.40" y1="186.30" x2="335.40" y2="187.70" stroke="#b0b0b0" stroke-width="0.8"/>
<line x1="342.02" y1="186.30" x2="342.02" y2="187.70" stroke="#b0b0b0" stroke-width="0.8"/>
<line x1="347.42" y1="186.30" x2="347.42" y2="187.70" stroke="#b0b0b0" stroke-width="0.8"/>
<line x1="351.99" y1="186.30" x2="351.99" y2="187.70" stroke="#b0b0b0" stroke-width="0.8"/>
<line x1="355.95" y1="186.30" x2="355.95" y2="187.70" stroke="#b0b0b0" stroke-width="0.8"/>
<line x1="359.44" y1="186.30" x2="359.44" y2="187.70" stroke="#b0b0b0" stroke-width="0.8"/>
<line x1="383.12" y1="186.30" x2="383.12" y2="187.70" stroke="#b0b0b0" stroke-width="0.8"/>
<line x1="395.14" y1="186.30" x2="395.14" y2="187.70" stroke="#b0b0b0" stroke-width="0.8"/>
<line x1="403.67" y1="186.30" x2="403.67" y2="187.70" stroke="#b0b0b0" stroke-width="0.8"/>
<line x1="410.28" y1="186.30" x2="410.28" y2="187.70" stroke="#b0b0b0" stroke-width="0.8"/>
<line x1="415.69" y1="186.30" x2="415.69" y2="187.70" stroke="#b0b0b0" stroke-width="0.8"/>
<line x1="420.26" y1="186.30" x2="420.26" y2="187.70" stroke="#b0b0b0" stroke-width="0.8"/>
<line x1="424.22" y1="186.30" x2="424.22" y2="187.70" stroke="#b0b0b0" stroke-width="0.8"/>
<line x1="427.71" y1="186.30" x2="427.71" y2="187.70" stroke="#b0b0b0" stroke-width="0.8"/>
<line x1="451.38" y1="186.30" x2="451.38" y2="187.70" stroke="#b0b0b0" stroke-width="0.8"/>
<line x1="463.40" y1="186.30" x2="463.40" y2="187.70" stroke="#b0b0b0" stroke-width="0.8"/>
<line x1="471.93" y1="186.30" x2="471.93" y2="187.70" stroke="#b0b0b0" stroke-width="0.8"/>
<line x1="478.55" y1="186.30" x2="478.55" y2="187.70" stroke="#b0b0b0" stroke-width="0.8"/>
<line x1="483.96" y1="186.30" x2="483.96" y2="187.70" stroke="#b0b0b0" stroke-width="0.8"/>
<line x1="488.53" y1="186.30" x2="488.53" y2="187.70" stroke="#b0b0b0" stroke-width="0.8"/>
<line x1="492.48" y1="186.30" x2="492.48" y2="187.70" stroke="#b0b0b0" stroke-width="0.8"/>
<line x1="495.98" y1="186.30" x2="495.98" y2="187.70" stroke="#b0b0b0" stroke-width="0.8"/>
<line x1="292.10" y1="186.30" x2="294.30" y2="186.30" stroke="#808080" stroke-width="1"/>
<line x1="292.10" y1="151.48" x2="294.30" y2="151.48" stroke="#808080" stroke-width="1"/>
<line x1="292.10" y1="116.66" x2="294.30" y2="116.66" stroke="#808080" stroke-width="1"/>
<line x1="292.10" y1="81.84" x2="294.30" y2="81.84" stroke="#808080" stroke-width="1"/>
<line x1="292.10" y1="47.02" x2="294.30" y2="47.02" stroke="#808080" stroke-width="1"/>
<line x1="292.10" y1="12.20" x2="294.30" y2="12.20" stroke="#808080" stroke-width="1"/>
<text class="s" x="284.30" y="190.05" font-size="10.2" textLength="6.00" lengthAdjust="spacingAndGlyphs">0</text>
<text class="s" x="284.30" y="155.23" font-size="10.2" textLength="6.00" lengthAdjust="spacingAndGlyphs">1</text>
<text class="s" x="284.30" y="120.41" font-size="10.2" textLength="6.00" lengthAdjust="spacingAndGlyphs">2</text>
<text class="s" x="284.30" y="85.59" font-size="10.2" textLength="6.00" lengthAdjust="spacingAndGlyphs">3</text>
<text class="s" x="284.30" y="50.77" font-size="10.2" textLength="6.00" lengthAdjust="spacingAndGlyphs">4</text>
<text class="s" x="284.30" y="15.95" font-size="10.2" textLength="6.00" lengthAdjust="spacingAndGlyphs">5</text>
<text class="s" x="286.30" y="197.80" font-size="10.2" textLength="11.60" lengthAdjust="spacingAndGlyphs">10</text>
<text class="s" x="298.30" y="193.60" font-size="7.0" textLength="4.20" lengthAdjust="spacingAndGlyphs">0</text>
<text class="s" x="354.57" y="197.80" font-size="10.2" textLength="11.60" lengthAdjust="spacingAndGlyphs">10</text>
<text class="s" x="366.57" y="193.60" font-size="7.0" textLength="4.20" lengthAdjust="spacingAndGlyphs">1</text>
<text class="s" x="422.83" y="197.80" font-size="10.2" textLength="11.60" lengthAdjust="spacingAndGlyphs">10</text>
<text class="s" x="434.83" y="193.60" font-size="7.0" textLength="4.20" lengthAdjust="spacingAndGlyphs">2</text>
<text class="s" x="491.10" y="197.80" font-size="10.2" textLength="11.60" lengthAdjust="spacingAndGlyphs">10</text>
<text class="s" x="503.10" y="193.60" font-size="7.0" textLength="4.20" lengthAdjust="spacingAndGlyphs">3</text>
<text class="s" x="293.70" y="10.70" font-size="10.2" textLength="23.00" lengthAdjust="spacingAndGlyphs">1e25</text>
<text class="s" x="374.80" y="8.90" font-size="11" textLength="39.60" lengthAdjust="spacingAndGlyphs">Tritium</text>
<text class="s" x="365.50" y="209.60" font-size="10" textLength="60.40" lengthAdjust="spacingAndGlyphs">Energy (keV)</text>
<text class="s" transform="translate(280.20,148.60) rotate(-90)" font-size="10" textLength="98.10" lengthAdjust="spacingAndGlyphs">Energy density (a.u.)</text>
<text class="s" x="313.10" y="76.80" font-size="17.2" textLength="21.30" lengthAdjust="spacingAndGlyphs">(b)</text>
<rect x="407.90" y="17.50" width="86.40" height="43.40" rx="2" fill="#fff" fill-opacity="0.85" stroke="#dedede" stroke-width="1"/>
<line x1="410.80" y1="24.60" x2="431.20" y2="24.60" stroke="#555" stroke-width="1" stroke-dasharray="1 1"/>
<text class="s" x="437.90" y="27.80" font-size="9.3" textLength="23.66" lengthAdjust="spacingAndGlyphs">input</text>
<line x1="410.80" y1="38.00" x2="431.20" y2="38.00" stroke="#6e68cc" stroke-width="1.7"/>
<text class="s" x="437.90" y="41.30" font-size="9.3" textLength="52.40" lengthAdjust="spacingAndGlyphs">RF=51MHz</text>
<line x1="410.80" y1="52.20" x2="431.20" y2="52.20" stroke="#d04460" stroke-width="1.4" stroke-dasharray="3 1.2"/>
<text class="s" x="437.90" y="55.50" font-size="9.3" textLength="52.40" lengthAdjust="spacingAndGlyphs">RF=33MHz</text>
<line x1="98.87" y1="230.20" x2="98.87" y2="404.20" stroke="#d4d4d4" stroke-width="1"/>
<line x1="166.93" y1="230.20" x2="166.93" y2="404.20" stroke="#d4d4d4" stroke-width="1"/>
<line x1="30.80" y1="369.40" x2="235.00" y2="369.40" stroke="#d4d4d4" stroke-width="1"/>
<line x1="30.80" y1="334.60" x2="235.00" y2="334.60" stroke="#d4d4d4" stroke-width="1"/>
<line x1="30.80" y1="299.80" x2="235.00" y2="299.80" stroke="#d4d4d4" stroke-width="1"/>
<line x1="30.80" y1="265.00" x2="235.00" y2="265.00" stroke="#d4d4d4" stroke-width="1"/>
<path d="M31.00,403.90 31.60,403.89 32.20,403.88 32.80,403.87 33.40,403.87 34.00,403.86 34.60,403.85 35.20,403.83 35.80,403.82 36.40,403.81 37.00,403.80 37.60,403.79 38.20,403.77 38.80,403.76 39.40,403.74 40.00,403.73 40.60,403.72 41.20,403.70 41.80,403.69 42.40,403.67 43.00,403.65 43.60,403.64 44.20,403.62 44.80,403.61 45.39,403.59 45.99,403.57 46.59,403.56 47.19,403.54 47.79,403.52 48.39,403.50 48.99,403.48 49.59,403.46 50.19,403.45 50.79,403.43 51.39,403.40 51.99,403.38 52.59,403.36 53.19,403.34 53.79,403.31 54.39,403.29 54.99,403.26 55.59,403.24 56.19,403.21 56.79,403.18 57.39,403.15 57.98,403.12 58.58,403.08 59.18,403.05 59.78,403.01 60.38,402.98 60.98,402.93 61.58,402.88 62.17,402.83 62.77,402.77 63.37,402.71 63.96,402.64 64.56,402.57 65.15,402.49 65.75,402.42 66.34,402.33 66.94,402.25 67.53,402.16 68.12,402.07 68.72,401.97 69.31,401.87 69.90,401.77 70.49,401.67 71.08,401.57 71.67,401.46 72.26,401.36 72.85,401.25 73.44,401.14 74.03,401.02 74.62,400.91 75.21,400.80 75.80,400.69 76.39,400.57 76.98,400.46 77.57,400.35 78.16,400.23 78.74,400.11 79.33,399.99 79.92,399.87 80.50,399.74 81.09,399.60 81.67,399.47 82.26,399.33 82.84,399.19 83.42,399.05 84.00,398.90 84.58,398.75 85.17,398.60 85.75,398.44 86.32,398.29 86.90,398.13 87.48,397.97 88.06,397.81 88.64,397.64 89.21,397.48 89.79,397.31 90.37,397.14 90.94,396.97 91.52,396.80 92.09,396.63 92.67,396.46 93.24,396.29 93.81,396.11 94.39,395.94 94.96,395.76 95.54,395.59 96.11,395.41 96.68,395.23 97.25,395.05 97.82,394.87 98.39,394.68 98.96,394.49 99.53,394.30 100.10,394.10 100.67,393.91 101.23,393.71 101.80,393.51 102.36,393.31 102.93,393.11 103.49,392.90 104.06,392.70 104.62,392.49 105.18,392.28 105.74,392.07 106.31,391.86 106.87,391.65 107.43,391.44 107.99,391.23 108.55,391.01 109.11,390.80 109.67,390.59 110.23,390.37 110.79,390.16 111.35,389.94 111.91,389.73 112.47,389.52 113.03,389.30 113.60,389.09 114.16,388.87 114.72,388.66 115.28,388.44 115.83,388.23 116.39,388.01 116.95,387.79 117.51,387.57 118.07,387.35 118.63,387.14 119.19,386.91 119.75,386.69 120.30,386.47 120.86,386.25 121.42,386.03 121.97,385.80 122.53,385.58 123.08,385.35 123.64,385.12 124.19,384.90 124.75,384.67 125.30,384.44 125.86,384.21 126.41,383.97 126.96,383.74 127.52,383.51 128.07,383.27 128.62,383.04 129.17,382.80 129.72,382.56 130.27,382.32 130.82,382.08 131.37,381.84 131.92,381.60 132.47,381.37 133.03,381.13 133.58,380.90 134.13,380.67 134.68,380.43 135.23,380.19 135.78,379.95 136.33,379.70 136.87,379.44 137.41,379.18 137.94,378.90 138.47,378.62 139.00,378.33 139.52,378.03 140.03,377.72 140.53,377.39 141.02,377.05 141.50,376.69 141.97,376.31 142.43,375.93 142.88,375.54 143.33,375.13 143.77,374.72 144.20,374.31 144.62,373.88 145.03,373.44 145.44,373.00 145.83,372.55 146.22,372.09 146.60,371.63 146.97,371.15 147.33,370.68 147.69,370.19 148.04,369.71 148.38,369.22 148.72,368.72 149.05,368.22 149.38,367.71 149.69,367.21 150.00,366.69 150.31,366.17 150.60,365.65 150.89,365.13 151.17,364.60 151.45,364.06 151.72,363.53 151.98,362.99 152.24,362.45 152.49,361.90 152.73,361.35 152.97,360.80 153.20,360.25 153.42,359.69 153.64,359.13 153.84,358.57 154.04,358.00 154.23,357.43 154.41,356.86 154.59,356.29 154.76,355.71 154.93,355.14 155.10,354.56 155.27,353.99 155.43,353.41 155.59,352.83 155.76,352.25 155.91,351.67 156.07,351.10 156.23,350.52 156.39,349.94 156.55,349.36 156.70,348.78 156.86,348.20 157.02,347.62 157.18,347.04 157.34,346.47 157.50,345.89 157.66,345.31 157.81,344.73 157.97,344.15 158.12,343.57 158.28,342.99 158.43,342.41 158.58,341.83 158.73,341.25 158.88,340.67 159.02,340.09 159.16,339.50 159.30,338.92 159.44,338.34 159.58,337.75 159.71,337.17 159.85,336.58 159.98,336.00 160.11,335.41 160.23,334.82 160.36,334.24 160.48,333.65 160.59,333.06 160.71,332.47 160.82,331.88 160.93,331.29 161.04,330.70 161.14,330.11 161.25,329.52 161.35,328.93 161.45,328.34 161.55,327.75 161.65,327.16 161.75,326.56 161.84,325.97 161.94,325.38 162.03,324.79 162.13,324.19 162.22,323.60 162.31,323.01 162.40,322.41 162.48,321.82 162.57,321.23 162.66,320.63 162.74,320.04 162.82,319.44 162.91,318.85 162.99,318.26 163.07,317.66 163.15,317.07 163.23,316.47 163.31,315.88 163.39,315.28 163.47,314.69 163.55,314.09 163.62,313.50 163.70,312.90 163.78,312.31 163.86,311.71 163.93,311.12 164.01,310.52 164.08,309.93 164.16,309.33 164.23,308.74 164.31,308.14 164.38,307.55 164.46,306.95 164.53,306.36 164.61,305.76 164.68,305.17 164.76,304.57 164.83,303.98 164.90,303.38 164.98,302.79 165.05,302.19 165.13,301.59 165.20,301.00 165.27,300.40 165.35,299.81 165.42,299.21 165.50,298.62 165.57,298.02 165.65,297.43 165.72,296.83 165.79,296.24 165.87,295.64 165.94,295.05 166.02,294.45 166.09,293.86 166.16,293.26 166.24,292.66 166.31,292.07 166.38,291.47 166.46,290.88 166.53,290.28 166.60,289.69 166.68,289.09 166.75,288.50 166.82,287.90 166.89,287.31 166.97,286.71 167.04,286.11 167.11,285.52 167.18,284.92 167.25,284.33 167.32,283.73 167.39,283.14 167.46,282.54 167.54,281.94 167.61,281.35 167.68,280.75 167.75,280.16 167.82,279.56 167.88,278.97 167.95,278.37 168.02,277.77 168.09,277.18 168.16,276.58 168.23,275.99 168.30,275.39 168.36,274.79 168.43,274.20 168.50,273.60 168.57,273.00 168.63,272.41 168.70,271.81 168.76,271.22 168.83,270.62 168.90,270.02 168.96,269.43 169.03,268.83 169.09,268.23 169.16,267.64 169.22,267.04 169.28,266.44 169.35,265.85 169.41,265.25 169.47,264.65 169.54,264.06 169.60,263.46 169.66,262.86 169.72,262.27 169.78,261.67 169.84,261.07 169.89,260.48 169.95,259.88 170.00,259.28 170.05,258.68 170.09,258.08 170.14,257.49 170.19,256.89 170.23,256.29 170.28,255.69 170.32,255.09 170.36,254.50 170.41,253.90 170.45,253.30 170.49,252.70 170.54,252.10 170.58,251.50 170.62,250.90 170.66,250.31 170.70,249.71 170.74,249.11 170.79,248.51 170.83,247.91 170.87,247.31 170.91,246.72 170.95,246.12 171.00,245.52 171.04,244.92 171.08,244.32 171.13,243.72 171.17,243.13 171.22,242.53 171.26,241.93 171.31,241.33 171.35,240.73 171.40,240.13 171.45,239.54 171.50,238.94 171.55,238.34 171.61,237.74 171.67,237.15 171.72,236.55 171.79,235.95 171.85,235.36 171.93,234.76 172.01,234.17 172.10,233.57 172.22,232.99 172.44,232.43 172.69,232.88 172.78,233.47 172.86,234.06 172.92,234.66 172.97,235.26 173.02,235.86 173.07,236.45 173.11,237.05 173.15,237.65 173.19,238.25 173.23,238.85 173.27,239.45 173.30,240.05 173.34,240.65 173.37,241.24 173.40,241.84 173.43,242.44 173.46,243.04 173.49,243.64 173.52,244.24 173.55,244.84 173.58,245.44 173.61,246.04 173.64,246.64 173.66,247.24 173.69,247.84 173.72,248.44 173.74,249.03 173.77,249.63 173.80,250.23 173.82,250.83 173.85,251.43 173.87,252.03 173.90,252.63 173.92,253.23 173.95,253.83 173.97,254.43 174.00,255.03 174.02,255.63 174.05,256.23 174.07,256.83 174.10,257.43 174.12,258.03 174.14,258.63 174.17,259.22 174.19,259.82 174.22,260.42 174.24,261.02 174.26,261.62 174.29,262.22 174.31,262.82 174.33,263.42 174.35,264.02 174.37,264.62 174.39,265.22 174.41,265.82 174.43,266.42 174.44,267.02 174.46,267.62 174.47,268.22 174.49,268.82 174.50,269.42 174.52,270.02 174.53,270.62 174.54,271.22 174.56,271.82 174.57,272.42 174.59,273.02 174.60,273.62 174.61,274.22 174.63,274.82 174.64,275.42 174.65,276.02 174.67,276.62 174.68,277.22 174.69,277.82 174.70,278.41 174.72,279.01 174.73,279.61 174.74,280.21 174.76,280.81 174.77,281.41 174.79,282.01 174.80,282.61 174.81,283.21 174.83,283.81 174.84,284.41 174.86,285.01 174.87,285.61 174.89,286.21 174.90,286.81 174.92,287.41 174.94,288.01 174.96,288.61 174.97,289.21 174.99,289.81 175.01,290.41 175.04,291.01 175.06,291.61 175.08,292.21 175.11,292.81 175.14,293.41 175.16,294.01 175.19,294.61 175.22,295.20 175.25,295.80 175.28,296.40 175.30,297.00 175.33,297.60 175.35,298.20 175.38,298.80 175.40,299.40 175.42,300.00 175.44,300.60 175.46,301.20 175.48,301.80 175.50,302.40 175.52,303.00 175.54,303.60 175.55,304.20 175.57,304.80 175.59,305.40 175.61,306.00 175.62,306.60 175.64,307.20 175.66,307.80 175.67,308.40 175.69,308.99 175.70,309.59 175.72,310.19 175.74,310.79 175.75,311.39 175.77,311.99 175.79,312.59 175.80,313.19 175.82,313.79 175.84,314.39 175.85,314.99 175.87,315.59 175.89,316.19 175.90,316.79 175.92,317.39 175.94,317.99 175.96,318.59 175.97,319.19 175.99,319.79 176.01,320.39 176.03,320.99 176.05,321.59 176.07,322.19 176.09,322.79 176.11,323.39 176.13,323.99 176.15,324.59 176.17,325.19 176.19,325.79 176.21,326.39 176.23,326.98 176.25,327.58 176.28,328.18 176.30,328.78 176.32,329.38 176.34,329.98 176.36,330.58 176.38,331.18 176.40,331.78 176.43,332.38 176.45,332.98 176.47,333.58 176.49,334.18 176.51,334.78 176.54,335.38 176.56,335.98 176.58,336.58 176.60,337.18 176.62,337.78 176.64,338.38 176.66,338.98 176.69,339.58 176.71,340.17 176.73,340.77 176.75,341.37 176.77,341.97 176.79,342.57 176.81,343.17 176.83,343.77 176.85,344.37 176.88,344.97 176.90,345.57 176.92,346.17 176.94,346.77 176.96,347.37 176.98,347.97 177.01,348.57 177.03,349.17 177.05,349.77 177.07,350.37 177.10,350.97 177.12,351.57 177.14,352.17 177.17,352.76 177.19,353.36 177.21,353.96 177.24,354.56 177.27,355.16 177.29,355.76 177.32,356.36 177.35,356.96 177.37,357.56 177.40,358.16 177.43,358.76 177.46,359.36 177.50,359.96 177.53,360.56 177.57,361.15 177.60,361.75 177.64,362.35 177.68,362.95 177.72,363.55 177.76,364.15 177.81,364.75 177.85,365.34 177.90,365.94 177.94,366.54 177.99,367.14 178.04,367.74 178.09,368.33 178.14,368.93 178.19,369.53 178.25,370.13 178.30,370.73 178.35,371.32 178.40,371.92 178.46,372.52 178.51,373.12 178.57,373.71 178.63,374.31 178.68,374.91 178.74,375.50 178.80,376.10 178.86,376.70 178.93,377.29 178.99,377.89 179.06,378.49 179.12,379.08 179.19,379.68 179.26,380.28 179.33,380.87 179.41,381.47 179.48,382.06 179.56,382.66 179.64,383.25 179.72,383.85 179.80,384.44 179.88,385.03 179.96,385.63 180.05,386.22 180.14,386.82 180.22,387.41 180.32,388.00 180.41,388.59 180.51,389.19 180.61,389.78 180.72,390.37 180.83,390.96 180.95,391.54 181.08,392.13 181.23,392.71 181.37,393.29 181.53,393.87 181.69,394.45 181.86,395.03 182.04,395.60 182.23,396.17 182.43,396.73 182.64,397.30 182.87,397.85 183.11,398.40 183.36,398.94 183.62,399.49 183.88,400.03 184.15,400.56 184.43,401.09 184.73,401.61 185.06,402.11 185.45,402.57 185.93,402.92 186.49,403.14 187.06,403.33 187.64,403.48 188.23,403.59 188.82,403.68 189.42,403.75 190.02,403.81 190.61,403.87 191.21,403.92 191.81,403.97 192.41,404.01 193.01,404.04 193.61,404.07 194.20,404.09 194.80,404.10 195.40,404.10 196.00,404.11 196.60,404.11 197.20,404.11 197.80,404.12 198.40,404.12 199.00,404.12 199.60,404.13 200.20,404.13 200.80,404.13 201.40,404.14 202.00,404.14 202.60,404.14 203.20,404.14 203.80,404.15 204.40,404.15 205.00,404.15 205.60,404.15 206.20,404.16 206.80,404.16 207.40,404.16 208.00,404.16 208.60,404.16 209.20,404.17 209.80,404.17 210.40,404.17 211.00,404.17 211.60,404.17 212.20,404.17 212.80,404.18 213.40,404.18 214.00,404.18 214.60,404.18 215.20,404.18 215.80,404.18 216.40,404.18 217.00,404.19 217.60,404.19 218.20,404.19 218.80,404.19 219.40,404.19 220.00,404.19 220.60,404.19 221.20,404.19 221.80,404.19 222.40,404.19 223.00,404.19 223.60,404.19 224.20,404.20 224.80,404.20 225.40,404.20 226.00,404.20 226.60,404.20 227.20,404.20 227.80,404.20 228.40,404.20 229.00,404.20 229.60,404.20 230.20,404.20 230.80,404.20 231.40,404.20 232.00,404.20 232.60,404.20 233.20,404.20 233.80,404.20 234.40,404.20 235.00,404.20" fill="none" stroke="#444" stroke-width="0.9" stroke-dasharray="0.9 1.1" clip-path="url(#clipc)"/>
<path d="M31.00,403.90 31.60,403.89 32.20,403.88 32.80,403.86 33.40,403.85 34.00,403.83 34.60,403.82 35.20,403.80 35.80,403.79 36.40,403.77 37.00,403.76 37.60,403.74 38.20,403.72 38.80,403.70 39.40,403.69 40.00,403.67 40.60,403.65 41.20,403.63 41.80,403.61 42.40,403.59 43.00,403.57 43.59,403.55 44.19,403.53 44.79,403.51 45.39,403.49 45.99,403.46 46.59,403.44 47.19,403.42 47.79,403.40 48.39,403.38 48.99,403.36 49.59,403.33 50.19,403.31 50.79,403.29 51.39,403.26 51.99,403.24 52.59,403.21 53.19,403.19 53.79,403.16 54.39,403.13 54.99,403.10 55.58,403.07 56.18,403.04 56.78,403.00 57.38,402.97 57.98,402.93 58.58,402.90 59.18,402.86 59.78,402.82 60.38,402.77 60.97,402.72 61.57,402.67 62.17,402.61 62.77,402.55 63.36,402.48 63.96,402.41 64.55,402.34 65.15,402.26 65.74,402.18 66.34,402.09 66.93,402.00 67.52,401.91 68.11,401.82 68.71,401.72 69.30,401.62 69.89,401.52 70.48,401.41 71.07,401.30 71.66,401.20 72.25,401.09 72.84,400.97 73.43,400.86 74.02,400.75 74.61,400.63 75.20,400.52 75.78,400.40 76.37,400.28 76.96,400.17 77.55,400.05 78.14,399.93 78.73,399.81 79.31,399.69 79.90,399.56 80.48,399.43 81.07,399.29 81.65,399.15 82.24,399.01 82.82,398.87 83.40,398.72 83.98,398.57 84.56,398.42 85.14,398.27 85.72,398.11 86.30,397.95 86.88,397.79 87.45,397.63 88.03,397.46 88.61,397.30 89.18,397.13 89.76,396.96 90.33,396.79 90.91,396.61 91.48,396.44 92.06,396.27 92.63,396.09 93.20,395.91 93.78,395.74 94.35,395.56 94.92,395.38 95.50,395.20 96.07,395.02 96.64,394.84 97.21,394.65 97.78,394.46 98.35,394.27 98.91,394.07 99.48,393.88 100.05,393.68 100.61,393.47 101.18,393.27 101.74,393.07 102.30,392.86 102.87,392.65 103.43,392.44 103.99,392.23 104.55,392.01 105.11,391.80 105.67,391.59 106.23,391.37 106.79,391.15 107.35,390.93 107.91,390.72 108.47,390.50 109.03,390.28 109.58,390.06 110.14,389.84 110.70,389.62 111.26,389.40 111.82,389.18 112.38,388.96 112.93,388.74 113.49,388.52 114.05,388.31 114.61,388.09 115.17,387.86 115.73,387.64 116.28,387.42 116.84,387.20 117.40,386.97 117.95,386.75 118.51,386.52 119.06,386.30 119.62,386.07 120.18,385.84 120.73,385.62 121.29,385.39 121.84,385.16 122.39,384.93 122.95,384.70 123.50,384.47 124.06,384.24 124.61,384.00 125.16,383.77 125.72,383.54 126.27,383.31 126.82,383.07 127.37,382.84 127.93,382.61 128.48,382.37 129.03,382.14 129.58,381.90 130.14,381.67 130.69,381.43 131.24,381.20 131.79,380.97 132.35,380.74 132.91,380.52 133.46,380.29 134.02,380.07 134.58,379.85 135.13,379.63 135.69,379.40 136.24,379.16 136.79,378.93 137.34,378.68 137.89,378.43 138.43,378.17 138.96,377.90 139.49,377.62 140.02,377.33 140.54,377.03 141.05,376.72 141.55,376.39 142.05,376.05 142.53,375.70 143.01,375.33 143.47,374.95 143.93,374.56 144.37,374.16 144.80,373.74 145.21,373.30 145.61,372.86 146.00,372.40 146.38,371.94 146.75,371.47 147.12,370.99 147.48,370.51 147.83,370.02 148.17,369.53 148.51,369.03 148.84,368.53 149.17,368.03 149.49,367.53 149.81,367.02 150.12,366.50 150.42,365.98 150.71,365.46 151.00,364.93 151.28,364.40 151.55,363.87 151.82,363.33 152.08,362.79 152.33,362.24 152.58,361.70 152.82,361.15 153.05,360.60 153.28,360.04 153.50,359.48 153.71,358.92 153.92,358.36 154.11,357.79 154.30,357.22 154.48,356.65 154.65,356.07 154.83,355.50 155.00,354.92 155.17,354.35 155.33,353.77 155.49,353.19 155.65,352.61 155.82,352.04 155.97,351.46 156.13,350.88 156.29,350.30 156.45,349.72 156.61,349.14 156.76,348.56 156.92,347.99 157.08,347.41 157.24,346.83 157.40,346.25 157.56,345.67 157.71,345.09 157.87,344.51 158.03,343.93 158.18,343.35 158.33,342.77 158.49,342.19 158.64,341.61 158.78,341.03 158.93,340.45 159.07,339.87 159.22,339.28 159.36,338.70 159.50,338.12 159.63,337.53 159.77,336.95 159.90,336.36 160.03,335.78 160.15,335.19 160.28,334.60 160.40,334.01 160.52,333.43 160.64,332.84 160.75,332.25 160.86,331.66 160.97,331.07 161.08,330.48 161.18,329.89 161.29,329.30 161.39,328.71 161.49,328.12 161.59,327.52 161.69,326.93 161.79,326.34 161.88,325.75 161.98,325.15 162.07,324.56 162.16,323.97 162.25,323.38 162.34,322.78 162.43,322.19 162.52,321.60 162.60,321.00 162.69,320.41 162.77,319.81 162.85,319.22 162.94,318.62 163.02,318.03 163.10,317.44 163.18,316.84 163.26,316.25 163.34,315.65 163.41,315.06 163.49,314.46 163.57,313.87 163.65,313.27 163.72,312.68 163.80,312.08 163.88,311.49 163.95,310.89 164.03,310.30 164.10,309.70 164.18,309.11 164.26,308.51 164.33,307.92 164.41,307.32 164.48,306.72 164.55,306.13 164.63,305.53 164.70,304.94 164.78,304.34 164.85,303.75 164.93,303.15 165.00,302.56 165.08,301.96 165.15,301.37 165.23,300.77 165.30,300.18 165.38,299.58 165.45,298.99 165.53,298.39 165.60,297.80 165.68,297.20 165.75,296.60 165.83,296.01 165.90,295.41 165.98,294.82 166.05,294.22 166.13,293.63 166.20,293.03 166.28,292.44 166.35,291.84 166.42,291.25 166.50,290.65 166.57,290.06 166.64,289.46 166.72,288.86 166.79,288.27 166.86,287.67 166.94,287.08 167.01,286.48 167.08,285.89 167.16,285.29 167.23,284.70 167.30,284.10 167.37,283.50 167.44,282.91 167.52,282.31 167.59,281.72 167.66,281.12 167.73,280.53 167.80,279.93 167.87,279.33 167.95,278.74 168.02,278.14 168.09,277.55 168.16,276.95 168.23,276.36 168.30,275.76 168.37,275.16 168.44,274.57 168.51,273.97 168.58,273.38 168.65,272.78 168.72,272.18 168.79,271.59 168.86,270.99 168.93,270.40 168.99,269.80 169.06,269.20 169.13,268.61 169.20,268.01 169.27,267.42 169.34,266.82 169.40,266.22 169.47,265.63 169.54,265.03 169.61,264.44 169.67,263.84 169.74,263.24 169.80,262.65 169.85,262.05 169.91,261.45 169.96,260.85 170.02,260.26 170.07,259.66 170.12,259.06 170.17,258.46 170.22,257.86 170.27,257.27 170.32,256.67 170.37,256.07 170.42,255.47 170.47,254.87 170.52,254.28 170.56,253.68 170.61,253.08 170.66,252.48 170.71,251.88 170.76,251.29 170.80,250.69 170.85,250.09 170.90,249.49 170.95,248.89 171.00,248.30 171.05,247.70 171.10,247.10 171.15,246.50 171.20,245.90 171.26,245.31 171.31,244.71 171.37,244.11 171.43,243.52 171.49,242.92 171.55,242.32 171.61,241.72 171.68,241.13 171.75,240.53 171.83,239.94 171.91,239.34 172.01,238.75 172.13,238.16 172.29,237.59 172.63,237.48 172.76,238.06 172.85,238.66 172.93,239.25 172.99,239.85 173.05,240.45 173.10,241.04 173.15,241.64 173.20,242.24 173.24,242.84 173.29,243.44 173.33,244.03 173.37,244.63 173.41,245.23 173.44,245.83 173.48,246.43 173.51,247.03 173.55,247.63 173.58,248.23 173.62,248.83 173.65,249.42 173.68,250.02 173.72,250.62 173.75,251.22 173.78,251.82 173.81,252.42 173.84,253.02 173.87,253.62 173.90,254.22 173.93,254.82 173.96,255.42 173.99,256.02 174.02,256.61 174.05,257.21 174.08,257.81 174.11,258.41 174.14,259.01 174.17,259.61 174.19,260.21 174.22,260.81 174.25,261.41 174.28,262.01 174.31,262.61 174.34,263.21 174.37,263.81 174.40,264.41 174.42,265.01 174.45,265.60 174.47,266.20 174.50,266.80 174.52,267.40 174.54,268.00 174.56,268.60 174.58,269.20 174.60,269.80 174.62,270.40 174.64,271.00 174.65,271.60 174.67,272.20 174.69,272.80 174.71,273.40 174.72,274.00 174.74,274.60 174.76,275.20 174.78,275.80 174.79,276.40 174.81,277.00 174.83,277.60 174.84,278.20 174.86,278.80 174.88,279.40 174.89,280.00 174.91,280.60 174.93,281.20 174.94,281.80 174.96,282.40 174.98,283.00 174.99,283.60 175.01,284.20 175.03,284.80 175.05,285.40 175.07,285.99 175.08,286.59 175.10,287.19 175.12,287.79 175.14,288.39 175.16,288.99 175.18,289.59 175.21,290.19 175.23,290.79 175.26,291.39 175.28,291.99 175.31,292.59 175.33,293.19 175.36,293.79 175.39,294.39 175.42,294.99 175.44,295.59 175.47,296.19 175.50,296.79 175.52,297.39 175.55,297.98 175.57,298.58 175.59,299.18 175.61,299.78 175.63,300.38 175.65,300.98 175.67,301.58 175.69,302.18 175.71,302.78 175.73,303.38 175.75,303.98 175.77,304.58 175.78,305.18 175.80,305.78 175.82,306.38 175.83,306.98 175.85,307.58 175.87,308.18 175.88,308.78 175.90,309.38 175.92,309.98 175.93,310.58 175.95,311.18 175.96,311.78 175.98,312.38 176.00,312.98 176.01,313.58 176.03,314.18 176.05,314.78 176.06,315.38 176.08,315.98 176.10,316.58 176.11,317.18 176.13,317.78 176.15,318.38 176.17,318.98 176.19,319.58 176.21,320.17 176.22,320.77 176.24,321.37 176.26,321.97 176.28,322.57 176.30,323.17 176.32,323.77 176.34,324.37 176.36,324.97 176.38,325.57 176.41,326.17 176.43,326.77 176.45,327.37 176.47,327.97 176.49,328.57 176.51,329.17 176.53,329.77 176.55,330.37 176.58,330.97 176.60,331.57 176.62,332.17 176.64,332.77 176.66,333.37 176.68,333.97 176.71,334.57 176.73,335.17 176.75,335.77 176.77,336.36 176.79,336.96 176.81,337.56 176.84,338.16 176.86,338.76 176.88,339.36 176.90,339.96 176.92,340.56 176.94,341.16 176.96,341.76 176.98,342.36 177.00,342.96 177.03,343.56 177.05,344.16 177.07,344.76 177.09,345.36 177.11,345.96 177.13,346.56 177.15,347.16 177.18,347.76 177.20,348.36 177.22,348.96 177.24,349.56 177.26,350.16 177.29,350.76 177.31,351.35 177.33,351.95 177.36,352.55 177.38,353.15 177.41,353.75 177.43,354.35 177.46,354.95 177.48,355.55 177.51,356.15 177.54,356.75 177.56,357.35 177.59,357.95 177.62,358.55 177.65,359.15 177.69,359.75 177.72,360.35 177.76,360.94 177.79,361.54 177.83,362.14 177.87,362.74 177.91,363.34 177.95,363.94 177.99,364.54 178.04,365.13 178.08,365.73 178.13,366.33 178.18,366.93 178.22,367.53 178.27,368.13 178.32,368.72 178.38,369.32 178.43,369.92 178.48,370.52 178.53,371.11 178.59,371.71 178.64,372.31 178.69,372.91 178.75,373.50 178.81,374.10 178.86,374.70 178.92,375.30 178.98,375.89 179.04,376.49 179.10,377.09 179.17,377.68 179.23,378.28 179.30,378.88 179.37,379.47 179.44,380.07 179.51,380.66 179.58,381.26 179.66,381.85 179.74,382.45 179.81,383.04 179.89,383.64 179.97,384.23 180.05,384.83 180.14,385.42 180.22,386.02 180.31,386.61 180.39,387.20 180.48,387.80 180.58,388.39 180.67,388.98 180.77,389.57 180.88,390.16 180.99,390.75 181.11,391.34 181.24,391.93 181.38,392.51 181.52,393.09 181.67,393.67 181.83,394.25 182.00,394.83 182.18,395.40 182.36,395.97 182.56,396.54 182.77,397.10 182.99,397.66 183.22,398.21 183.47,398.76 183.73,399.30 183.99,399.84 184.25,400.38 184.53,400.91 184.82,401.44 185.14,401.94 185.50,402.42 185.95,402.82 186.50,403.06 187.06,403.26 187.64,403.42 188.23,403.54 188.82,403.64 189.42,403.71 190.01,403.78 190.61,403.84 191.21,403.90 191.80,403.95 192.40,404.00 193.00,404.03 193.60,404.06 194.20,404.09 194.80,404.10 195.40,404.10 196.00,404.11 196.60,404.11 197.20,404.11 197.80,404.12 198.40,404.12 199.00,404.12 199.60,404.13 200.20,404.13 200.80,404.13 201.40,404.14 202.00,404.14 202.60,404.14 203.20,404.14 203.80,404.15 204.40,404.15 205.00,404.15 205.60,404.15 206.20,404.16 206.80,404.16 207.40,404.16 208.00,404.16 208.60,404.16 209.20,404.17 209.80,404.17 210.40,404.17 211.00,404.17 211.60,404.17 212.20,404.17 212.80,404.18 213.40,404.18 214.00,404.18 214.60,404.18 215.20,404.18 215.80,404.18 216.40,404.18 217.00,404.19 217.60,404.19 218.20,404.19 218.80,404.19 219.40,404.19 220.00,404.19 220.60,404.19 221.20,404.19 221.80,404.19 222.40,404.19 223.00,404.19 223.60,404.19 224.20,404.20 224.80,404.20 225.40,404.20 226.00,404.20 226.60,404.20 227.20,404.20 227.80,404.20 228.40,404.20 229.00,404.20 229.60,404.20 230.20,404.20 230.80,404.20 231.40,404.20 232.00,404.20 232.60,404.20 233.20,404.20 233.80,404.20 234.40,404.20 235.00,404.20" fill="none" stroke="#d03a52" stroke-width="1.2" stroke-dasharray="3 1.3" clip-path="url(#clipc)"/>
<path d="M31.00,404.10 31.60,404.09 32.20,404.08 32.80,404.07 33.40,404.05 34.00,404.04 34.60,404.03 35.19,404.02 35.79,404.01 36.39,403.99 36.99,403.98 37.59,403.97 38.19,403.95 38.79,403.94 39.39,403.93 39.99,403.92 40.59,403.90 41.19,403.89 41.79,403.87 42.38,403.86 42.98,403.85 43.58,403.83 44.18,403.82 44.78,403.81 45.38,403.79 45.98,403.78 46.58,403.76 47.18,403.75 47.78,403.74 48.38,403.72 48.98,403.71 49.58,403.70 50.17,403.69 50.77,403.67 51.37,403.66 51.97,403.65 52.57,403.63 53.17,403.62 53.77,403.60 54.37,403.59 54.97,403.57 55.57,403.55 56.17,403.54 56.76,403.52 57.36,403.50 57.96,403.48 58.56,403.46 59.16,403.43 59.76,403.41 60.36,403.38 60.96,403.35 61.56,403.32 62.15,403.28 62.75,403.24 63.35,403.19 63.95,403.14 64.54,403.09 65.14,403.04 65.74,402.99 66.33,402.93 66.93,402.88 67.53,402.82 68.12,402.77 68.72,402.71 69.32,402.66 69.92,402.61 70.51,402.56 71.11,402.51 71.71,402.46 72.30,402.40 72.90,402.35 73.50,402.30 74.10,402.25 74.69,402.20 75.29,402.14 75.89,402.09 76.48,402.04 77.08,401.98 77.68,401.93 78.27,401.87 78.87,401.81 79.47,401.75 80.06,401.69 80.66,401.63 81.26,401.58 81.85,401.52 82.45,401.46 83.04,401.40 83.64,401.34 84.24,401.28 84.83,401.22 85.43,401.15 86.02,401.08 86.62,401.01 87.22,400.94 87.81,400.87 88.40,400.79 89.00,400.70 89.59,400.62 90.18,400.52 90.77,400.42 91.36,400.31 91.95,400.19 92.54,400.07 93.12,399.93 93.70,399.80 94.29,399.66 94.87,399.51 95.45,399.37 96.03,399.22 96.61,399.07 97.19,398.92 97.77,398.76 98.35,398.61 98.93,398.46 99.51,398.31 100.09,398.15 100.66,397.99 101.24,397.83 101.82,397.67 102.39,397.50 102.97,397.33 103.54,397.16 104.12,396.99 104.69,396.81 105.26,396.64 105.84,396.46 106.41,396.28 106.98,396.10 107.55,395.91 108.12,395.73 108.69,395.54 109.26,395.35 109.83,395.16 110.39,394.97 110.96,394.78 111.53,394.58 112.10,394.39 112.66,394.19 113.23,394.00 113.79,393.80 114.36,393.60 114.92,393.39 115.48,393.18 116.04,392.97 116.60,392.75 117.16,392.53 117.71,392.30 118.27,392.07 118.82,391.83 119.36,391.59 119.91,391.34 120.45,391.09 120.99,390.82 121.52,390.54 122.05,390.26 122.57,389.97 123.09,389.67 123.61,389.37 124.13,389.06 124.64,388.75 125.15,388.44 125.65,388.12 126.16,387.79 126.66,387.47 127.16,387.14 127.66,386.81 128.16,386.48 128.66,386.15 129.16,385.82 129.66,385.49 130.16,385.15 130.66,384.82 131.16,384.49 131.66,384.17 132.17,383.84 132.67,383.52 133.18,383.20 133.69,382.89 134.20,382.57 134.70,382.25 135.21,381.93 135.71,381.60 136.22,381.28 136.72,380.95 137.21,380.61 137.71,380.27 138.20,379.93 138.68,379.57 139.17,379.22 139.64,378.85 140.11,378.48 140.58,378.10 141.04,377.72 141.49,377.32 141.93,376.92 142.37,376.52 142.80,376.10 143.22,375.67 143.62,375.22 144.01,374.77 144.38,374.30 144.75,373.83 145.11,373.35 145.47,372.87 145.82,372.38 146.16,371.89 146.51,371.40 146.84,370.90 147.18,370.41 147.52,369.91 147.85,369.41 148.19,368.92 148.53,368.42 148.86,367.92 149.19,367.42 149.51,366.92 149.83,366.41 150.15,365.90 150.45,365.39 150.75,364.87 151.05,364.35 151.33,363.82 151.61,363.29 151.87,362.75 152.13,362.21 152.38,361.66 152.62,361.11 152.85,360.56 153.08,360.00 153.30,359.45 153.51,358.89 153.73,358.33 153.94,357.77 154.14,357.20 154.35,356.64 154.55,356.08 154.75,355.51 154.95,354.95 155.15,354.38 155.35,353.82 155.55,353.25 155.75,352.69 155.96,352.12 156.16,351.56 156.36,351.00 156.56,350.43 156.77,349.87 156.97,349.31 157.18,348.74 157.38,348.18 157.58,347.61 157.79,347.05 157.99,346.49 158.19,345.92 158.38,345.36 158.58,344.79 158.78,344.22 158.97,343.65 159.16,343.09 159.35,342.52 159.53,341.95 159.72,341.38 159.90,340.81 160.08,340.23 160.25,339.66 160.42,339.09 160.59,338.51 160.76,337.94 160.93,337.36 161.09,336.78 161.25,336.20 161.40,335.63 161.56,335.05 161.71,334.47 161.86,333.89 162.00,333.30 162.13,332.72 162.27,332.14 162.39,331.55 162.52,330.96 162.64,330.38 162.77,329.79 162.89,329.20 163.00,328.62 163.12,328.03 163.23,327.44 163.35,326.85 163.46,326.26 163.57,325.67 163.68,325.09 163.79,324.50 163.90,323.91 164.01,323.32 164.12,322.73 164.22,322.14 164.33,321.55 164.43,320.96 164.53,320.37 164.63,319.78 164.73,319.18 164.83,318.59 164.93,318.00 165.03,317.41 165.12,316.82 165.22,316.23 165.32,315.64 165.41,315.04 165.51,314.45 165.60,313.86 165.69,313.27 165.79,312.68 165.88,312.08 165.97,311.49 166.06,310.90 166.16,310.31 166.25,309.72 166.34,309.12 166.43,308.53 166.52,307.94 166.61,307.35 166.70,306.75 166.79,306.16 166.88,305.57 166.97,304.97 167.05,304.38 167.14,303.79 167.23,303.20 167.32,302.60 167.41,302.01 167.50,301.42 167.59,300.83 167.68,300.23 167.76,299.64 167.85,299.05 167.94,298.45 168.03,297.86 168.11,297.27 168.19,296.67 168.28,296.08 168.36,295.49 168.44,294.89 168.52,294.30 168.61,293.71 168.69,293.11 168.77,292.52 168.85,291.92 168.93,291.33 169.01,290.74 169.09,290.14 169.17,289.55 169.25,288.96 169.33,288.36 169.42,287.77 169.50,287.17 169.58,286.58 169.66,285.99 169.75,285.39 169.83,284.80 169.92,284.21 170.01,283.61 170.10,283.02 170.18,282.43 170.27,281.84 170.35,281.24 170.43,280.65 170.51,280.05 170.59,279.46 170.67,278.87 170.74,278.27 170.82,277.68 170.89,277.08 170.97,276.49 171.04,275.89 171.11,275.30 171.19,274.70 171.26,274.11 171.33,273.51 171.41,272.92 171.48,272.32 171.56,271.73 171.63,271.13 171.71,270.54 171.79,269.95 171.86,269.35 171.95,268.76 172.03,268.16 172.11,267.57 172.20,266.98 172.29,266.39 172.39,265.79 172.49,265.20 172.59,264.61 172.71,264.02 172.84,263.44 172.98,262.86 173.17,262.29 173.46,261.77 173.92,261.97 174.16,262.52 174.35,263.09 174.51,263.67 174.66,264.25 174.79,264.83 174.93,265.42 175.05,266.00 175.18,266.59 175.30,267.17 175.43,267.76 175.55,268.35 175.68,268.93 175.82,269.51 175.94,270.10 176.06,270.69 176.18,271.28 176.29,271.86 176.40,272.45 176.51,273.04 176.61,273.63 176.72,274.22 176.82,274.81 176.92,275.41 177.01,276.00 177.11,276.59 177.21,277.18 177.30,277.77 177.39,278.36 177.48,278.96 177.58,279.55 177.67,280.14 177.76,280.73 177.85,281.33 177.94,281.92 178.03,282.51 178.12,283.10 178.20,283.70 178.29,284.29 178.37,284.88 178.45,285.48 178.53,286.07 178.61,286.67 178.69,287.26 178.76,287.85 178.84,288.45 178.91,289.04 178.99,289.64 179.06,290.23 179.13,290.83 179.21,291.42 179.28,292.02 179.35,292.61 179.43,293.21 179.50,293.80 179.58,294.40 179.65,294.99 179.72,295.59 179.80,296.18 179.88,296.78 179.95,297.37 180.03,297.96 180.11,298.56 180.19,299.15 180.28,299.75 180.36,300.34 180.45,300.93 180.53,301.52 180.62,302.12 180.71,302.71 180.79,303.30 180.88,303.90 180.97,304.49 181.06,305.08 181.15,305.68 181.23,306.27 181.32,306.86 181.42,307.45 181.51,308.05 181.60,308.64 181.69,309.23 181.79,309.82 181.88,310.41 181.98,311.00 182.07,311.60 182.17,312.19 182.27,312.78 182.37,313.37 182.48,313.96 182.58,314.55 182.69,315.14 182.80,315.73 182.91,316.32 183.02,316.91 183.13,317.50 183.25,318.08 183.36,318.67 183.48,319.26 183.60,319.85 183.72,320.43 183.84,321.02 183.96,321.61 184.08,322.19 184.21,322.78 184.33,323.37 184.46,323.95 184.59,324.54 184.72,325.12 184.85,325.71 184.98,326.29 185.11,326.88 185.24,327.46 185.37,328.05 185.51,328.63 185.64,329.22 185.77,329.80 185.90,330.39 186.03,330.97 186.17,331.55 186.30,332.14 186.43,332.72 186.56,333.31 186.69,333.89 186.82,334.48 186.95,335.07 187.07,335.65 187.20,336.24 187.33,336.82 187.46,337.41 187.59,337.99 187.72,338.58 187.85,339.16 187.98,339.75 188.11,340.33 188.24,340.92 188.37,341.50 188.50,342.09 188.63,342.67 188.76,343.26 188.89,343.84 189.02,344.43 189.15,345.01 189.29,345.60 189.42,346.18 189.55,346.77 189.68,347.35 189.82,347.93 189.95,348.52 190.08,349.10 190.22,349.69 190.35,350.27 190.49,350.86 190.62,351.44 190.76,352.02 190.89,352.61 191.03,353.19 191.16,353.77 191.30,354.36 191.44,354.94 191.57,355.53 191.70,356.11 191.84,356.69 191.97,357.28 192.11,357.86 192.24,358.45 192.37,359.03 192.51,359.61 192.64,360.20 192.78,360.78 192.92,361.37 193.05,361.95 193.19,362.53 193.33,363.12 193.47,363.70 193.61,364.28 193.75,364.86 193.90,365.45 194.04,366.03 194.19,366.61 194.34,367.19 194.49,367.77 194.65,368.35 194.81,368.92 194.97,369.50 195.14,370.08 195.30,370.65 195.47,371.23 195.64,371.80 195.81,372.38 195.98,372.95 196.16,373.52 196.34,374.10 196.51,374.67 196.69,375.24 196.88,375.81 197.06,376.38 197.25,376.95 197.45,377.52 197.64,378.08 197.85,378.65 198.05,379.21 198.27,379.77 198.49,380.33 198.72,380.88 198.96,381.43 199.20,381.98 199.46,382.52 199.72,383.06 199.99,383.59 200.26,384.13 200.55,384.65 200.84,385.18 201.13,385.70 201.44,386.22 201.74,386.73 202.05,387.25 202.36,387.76 202.67,388.27 202.99,388.78 203.30,389.29 203.60,389.81 203.91,390.32 204.22,390.84 204.53,391.35 204.84,391.87 205.15,392.38 205.46,392.89 205.79,393.39 206.11,393.89 206.45,394.39 206.80,394.88 207.16,395.35 207.54,395.82 207.94,396.27 208.35,396.70 208.77,397.13 209.20,397.55 209.64,397.96 210.09,398.35 210.55,398.74 211.01,399.11 211.49,399.48 211.97,399.84 212.46,400.18 212.95,400.53 213.44,400.87 213.94,401.20 214.44,401.52 214.96,401.83 215.49,402.12 216.03,402.37 216.58,402.59 217.15,402.79 217.72,402.97 218.30,403.14 218.88,403.30 219.46,403.43 220.05,403.55 220.64,403.65 221.23,403.73 221.83,403.80 222.42,403.86 223.02,403.92 223.62,403.97 224.21,404.02 224.81,404.05 225.41,404.08 226.01,404.10 226.61,404.11 227.21,404.12 227.81,404.13 228.41,404.14 229.01,404.15 229.61,404.16 230.21,404.17 230.80,404.18 231.40,404.18 232.00,404.19 232.60,404.19 233.20,404.20 233.80,404.20 234.40,404.20 235.00,404.20" fill="none" stroke="#5548c8" stroke-width="1.25" clip-path="url(#clipc)"/>
<rect x="30.80" y="230.20" width="204.20" height="174.00" fill="none" stroke="#7a7a7a" stroke-width="1.1" stroke-opacity="0.9"/>
<line x1="30.80" y1="404.20" x2="30.80" y2="406.40" stroke="#808080" stroke-width="1"/>
<line x1="98.87" y1="404.20" x2="98.87" y2="406.40" stroke="#808080" stroke-width="1"/>
<line x1="166.93" y1="404.20" x2="166.93" y2="406.40" stroke="#808080" stroke-width="1"/>
<line x1="235.00" y1="404.20" x2="235.00" y2="406.40" stroke="#808080" stroke-width="1"/>
<line x1="51.29" y1="404.20" x2="51.29" y2="405.60" stroke="#b0b0b0" stroke-width="0.8"/>
<line x1="63.28" y1="404.20" x2="63.28" y2="405.60" stroke="#b0b0b0" stroke-width="0.8"/>
<line x1="71.78" y1="404.20" x2="71.78" y2="405.60" stroke="#b0b0b0" stroke-width="0.8"/>
<line x1="78.38" y1="404.20" x2="78.38" y2="405.60" stroke="#b0b0b0" stroke-width="0.8"/>
<line x1="83.77" y1="404.20" x2="83.77" y2="405.60" stroke="#b0b0b0" stroke-width="0.8"/>
<line x1="88.32" y1="404.20" x2="88.32" y2="405.60" stroke="#b0b0b0" stroke-width="0.8"/>
<line x1="92.27" y1="404.20" x2="92.27" y2="405.60" stroke="#b0b0b0" stroke-width="0.8"/>
<line x1="95.75" y1="404.20" x2="95.75" y2="405.60" stroke="#b0b0b0" stroke-width="0.8"/>
<line x1="119.36" y1="404.20" x2="119.36" y2="405.60" stroke="#b0b0b0" stroke-width="0.8"/>
<line x1="131.34" y1="404.20" x2="131.34" y2="405.60" stroke="#b0b0b0" stroke-width="0.8"/>
<line x1="139.85" y1="404.20" x2="139.85" y2="405.60" stroke="#b0b0b0" stroke-width="0.8"/>
<line x1="146.44" y1="404.20" x2="146.44" y2="405.60" stroke="#b0b0b0" stroke-width="0.8"/>
<line x1="151.83" y1="404.20" x2="151.83" y2="405.60" stroke="#b0b0b0" stroke-width="0.8"/>
<line x1="156.39" y1="404.20" x2="156.39" y2="405.60" stroke="#b0b0b0" stroke-width="0.8"/>
<line x1="160.34" y1="404.20" x2="160.34" y2="405.60" stroke="#b0b0b0" stroke-width="0.8"/>
<line x1="163.82" y1="404.20" x2="163.82" y2="405.60" stroke="#b0b0b0" stroke-width="0.8"/>
<line x1="187.42" y1="404.20" x2="187.42" y2="405.60" stroke="#b0b0b0" stroke-width="0.8"/>
<line x1="199.41" y1="404.20" x2="199.41" y2="405.60" stroke="#b0b0b0" stroke-width="0.8"/>
<line x1="207.91" y1="404.20" x2="207.91" y2="405.60" stroke="#b0b0b0" stroke-width="0.8"/>
<line x1="214.51" y1="404.20" x2="214.51" y2="405.60" stroke="#b0b0b0" stroke-width="0.8"/>
<line x1="219.90" y1="404.20" x2="219.90" y2="405.60" stroke="#b0b0b0" stroke-width="0.8"/>
<line x1="224.46" y1="404.20" x2="224.46" y2="405.60" stroke="#b0b0b0" stroke-width="0.8"/>
<line x1="228.40" y1="404.20" x2="228.40" y2="405.60" stroke="#b0b0b0" stroke-width="0.8"/>
<line x1="231.89" y1="404.20" x2="231.89" y2="405.60" stroke="#b0b0b0" stroke-width="0.8"/>
<line x1="28.60" y1="404.20" x2="30.80" y2="404.20" stroke="#808080" stroke-width="1"/>
<line x1="28.60" y1="369.40" x2="30.80" y2="369.40" stroke="#808080" stroke-width="1"/>
<line x1="28.60" y1="334.60" x2="30.80" y2="334.60" stroke="#808080" stroke-width="1"/>
<line x1="28.60" y1="299.80" x2="30.80" y2="299.80" stroke="#808080" stroke-width="1"/>
<line x1="28.60" y1="265.00" x2="30.80" y2="265.00" stroke="#808080" stroke-width="1"/>
<line x1="28.60" y1="230.20" x2="30.80" y2="230.20" stroke="#808080" stroke-width="1"/>
<text class="s" x="12.20" y="407.95" font-size="10.2" textLength="14.60" lengthAdjust="spacingAndGlyphs">0.0</text>
<text class="s" x="12.20" y="373.15" font-size="10.2" textLength="14.60" lengthAdjust="spacingAndGlyphs">0.2</text>
<text class="s" x="12.20" y="338.35" font-size="10.2" textLength="14.60" lengthAdjust="spacingAndGlyphs">0.4</text>
<text class="s" x="12.20" y="303.55" font-size="10.2" textLength="14.60" lengthAdjust="spacingAndGlyphs">0.6</text>
<text class="s" x="12.20" y="268.75" font-size="10.2" textLength="14.60" lengthAdjust="spacingAndGlyphs">0.8</text>
<text class="s" x="12.20" y="233.95" font-size="10.2" textLength="14.60" lengthAdjust="spacingAndGlyphs">1.0</text>
<text class="s" x="22.80" y="415.70" font-size="10.2" textLength="11.60" lengthAdjust="spacingAndGlyphs">10</text>
<text class="s" x="34.80" y="411.50" font-size="7.0" textLength="4.20" lengthAdjust="spacingAndGlyphs">0</text>
<text class="s" x="90.87" y="415.70" font-size="10.2" textLength="11.60" lengthAdjust="spacingAndGlyphs">10</text>
<text class="s" x="102.87" y="411.50" font-size="7.0" textLength="4.20" lengthAdjust="spacingAndGlyphs">1</text>
<text class="s" x="158.93" y="415.70" font-size="10.2" textLength="11.60" lengthAdjust="spacingAndGlyphs">10</text>
<text class="s" x="170.93" y="411.50" font-size="7.0" textLength="4.20" lengthAdjust="spacingAndGlyphs">2</text>
<text class="s" x="227.00" y="415.70" font-size="10.2" textLength="11.60" lengthAdjust="spacingAndGlyphs">10</text>
<text class="s" x="239.00" y="411.50" font-size="7.0" textLength="4.20" lengthAdjust="spacingAndGlyphs">3</text>
<text class="s" x="30.20" y="228.70" font-size="10.2" textLength="23.00" lengthAdjust="spacingAndGlyphs">1e25</text>
<text class="s" x="117.20" y="226.80" font-size="11" textLength="29.70" lengthAdjust="spacingAndGlyphs">D-nbi</text>
<text class="s" x="102.00" y="427.20" font-size="10" textLength="61.40" lengthAdjust="spacingAndGlyphs">Energy (keV)</text>
<text class="s" transform="translate(7.00,366.00) rotate(-90)" font-size="10" textLength="97.00" lengthAdjust="spacingAndGlyphs">Energy density (a.u.)</text>
<text class="s" x="55.30" y="312.20" font-size="17.2" textLength="20.40" lengthAdjust="spacingAndGlyphs">(c)</text>
<rect x="35.30" y="235.30" width="85.80" height="43.00" rx="2" fill="#fff" fill-opacity="0.85" stroke="#dedede" stroke-width="1"/>
<line x1="38.30" y1="242.20" x2="58.00" y2="242.20" stroke="#555" stroke-width="1" stroke-dasharray="1 1"/>
<text class="s" x="64.90" y="245.40" font-size="9.3" textLength="23.43" lengthAdjust="spacingAndGlyphs">input</text>
<line x1="38.30" y1="256.00" x2="58.00" y2="256.00" stroke="#6e68cc" stroke-width="1.7"/>
<text class="s" x="64.90" y="259.30" font-size="9.3" textLength="51.90" lengthAdjust="spacingAndGlyphs">RF=51MHz</text>
<line x1="38.30" y1="269.80" x2="58.00" y2="269.80" stroke="#d04460" stroke-width="1.4" stroke-dasharray="3 1.2"/>
<text class="s" x="64.90" y="273.10" font-size="9.3" textLength="51.90" lengthAdjust="spacingAndGlyphs">RF=33MHz</text>
<line x1="362.53" y1="230.40" x2="362.53" y2="404.20" stroke="#d4d4d4" stroke-width="1"/>
<line x1="430.77" y1="230.40" x2="430.77" y2="404.20" stroke="#d4d4d4" stroke-width="1"/>
<line x1="294.30" y1="369.44" x2="499.00" y2="369.44" stroke="#d4d4d4" stroke-width="1"/>
<line x1="294.30" y1="334.68" x2="499.00" y2="334.68" stroke="#d4d4d4" stroke-width="1"/>
<line x1="294.30" y1="299.92" x2="499.00" y2="299.92" stroke="#d4d4d4" stroke-width="1"/>
<line x1="294.30" y1="265.16" x2="499.00" y2="265.16" stroke="#d4d4d4" stroke-width="1"/>
<path d="M294.30,404.30 294.90,404.30 295.50,404.30 296.10,404.30 296.70,404.29 297.30,404.29 297.90,404.29 298.50,404.28 299.10,404.28 299.69,404.27 300.29,404.26 300.89,404.26 301.49,404.25 302.09,404.24 302.69,404.23 303.29,404.22 303.89,404.21 304.49,404.20 305.09,404.19 305.69,404.18 306.29,404.17 306.89,404.16 307.49,404.15 308.09,404.13 308.69,404.12 309.28,404.11 309.88,404.09 310.48,404.08 311.08,404.07 311.68,404.05 312.28,404.04 312.88,404.02 313.48,404.01 314.08,403.99 314.68,403.97 315.28,403.95 315.88,403.93 316.47,403.90 317.07,403.87 317.67,403.84 318.27,403.81 318.87,403.77 319.47,403.74 320.07,403.70 320.66,403.65 321.26,403.61 321.86,403.57 322.46,403.52 323.05,403.47 323.65,403.43 324.25,403.37 324.85,403.32 325.44,403.27 326.04,403.22 326.64,403.16 327.23,403.11 327.83,403.05 328.43,402.99 329.02,402.93 329.62,402.88 330.22,402.82 330.81,402.76 331.41,402.70 332.01,402.64 332.60,402.58 333.20,402.52 333.80,402.46 334.39,402.40 334.99,402.33 335.58,402.26 336.18,402.19 336.77,402.12 337.37,402.05 337.96,401.97 338.56,401.89 339.15,401.81 339.75,401.73 340.34,401.65 340.93,401.56 341.53,401.48 342.12,401.39 342.71,401.30 343.30,401.21 343.90,401.12 344.49,401.03 345.08,400.93 345.67,400.84 346.27,400.74 346.86,400.65 347.45,400.55 348.04,400.45 348.63,400.36 349.22,400.26 349.81,400.16 350.41,400.06 351.00,399.97 351.59,399.87 352.18,399.77 352.77,399.67 353.36,399.57 353.95,399.48 354.55,399.38 355.14,399.28 355.73,399.18 356.32,399.08 356.91,398.98 357.50,398.87 358.09,398.77 358.68,398.66 359.27,398.55 359.86,398.44 360.45,398.33 361.04,398.21 361.62,398.09 362.21,397.97 362.80,397.84 363.38,397.72 363.97,397.58 364.55,397.44 365.13,397.30 365.71,397.15 366.29,397.00 366.87,396.84 367.45,396.68 368.02,396.52 368.60,396.36 369.18,396.19 369.75,396.02 370.33,395.86 370.90,395.69 371.48,395.52 372.05,395.35 372.63,395.18 373.20,395.01 373.78,394.85 374.36,394.68 374.93,394.52 375.51,394.36 376.09,394.19 376.66,394.03 377.24,393.87 377.82,393.70 378.39,393.54 378.97,393.37 379.55,393.20 380.12,393.04 380.70,392.87 381.27,392.71 381.85,392.55 382.43,392.38 383.01,392.22 383.58,392.06 384.16,391.90 384.74,391.74 385.32,391.59 385.90,391.44 386.48,391.29 387.06,391.14 387.64,390.99 388.22,390.84 388.80,390.68 389.38,390.53 389.96,390.38 390.54,390.22 391.11,390.06 391.69,389.90 392.27,389.73 392.84,389.56 393.42,389.39 393.99,389.22 394.57,389.05 395.14,388.88 395.71,388.70 396.29,388.53 396.86,388.35 397.43,388.16 398.00,387.98 398.56,387.78 399.13,387.57 399.69,387.36 400.25,387.14 400.80,386.91 401.35,386.67 401.89,386.42 402.43,386.15 402.96,385.87 403.48,385.58 404.00,385.28 404.51,384.96 405.02,384.64 405.52,384.31 406.01,383.97 406.50,383.62 406.98,383.26 407.45,382.90 407.92,382.53 408.39,382.15 408.85,381.76 409.31,381.38 409.76,380.98 410.20,380.58 410.64,380.17 411.07,379.75 411.48,379.32 411.89,378.88 412.28,378.42 412.66,377.96 413.04,377.49 413.41,377.02 413.77,376.54 414.12,376.06 414.47,375.58 414.82,375.09 415.16,374.59 415.50,374.10 415.83,373.60 416.16,373.10 416.48,372.59 416.78,372.07 417.09,371.56 417.38,371.03 417.67,370.51 417.95,369.98 418.23,369.45 418.50,368.91 418.77,368.38 419.04,367.84 419.30,367.30 419.55,366.76 419.80,366.21 420.05,365.67 420.29,365.12 420.53,364.57 420.76,364.01 420.99,363.46 421.21,362.90 421.43,362.35 421.65,361.79 421.86,361.23 422.07,360.66 422.27,360.10 422.47,359.54 422.67,358.97 422.87,358.40 423.06,357.84 423.25,357.27 423.44,356.70 423.63,356.13 423.81,355.56 423.99,354.99 424.16,354.41 424.34,353.84 424.51,353.27 424.67,352.69 424.84,352.11 425.00,351.54 425.15,350.96 425.30,350.38 425.45,349.80 425.60,349.21 425.74,348.63 425.88,348.05 426.02,347.47 426.15,346.88 426.28,346.30 426.40,345.71 426.52,345.12 426.63,344.53 426.74,343.94 426.84,343.35 426.94,342.76 427.04,342.17 427.14,341.58 427.23,340.99 427.32,340.39 427.42,339.80 427.51,339.21 427.60,338.62 427.70,338.02 427.79,337.43 427.88,336.84 427.98,336.25 428.07,335.66 428.17,335.07 428.28,334.48 428.38,333.89 428.49,333.30 428.59,332.70 428.69,332.11 428.78,331.52 428.87,330.93 428.96,330.34 429.03,329.74 429.10,329.15 429.17,328.55 429.23,327.95 429.29,327.36 429.35,326.76 429.40,326.16 429.46,325.57 429.51,324.97 429.56,324.37 429.61,323.77 429.66,323.18 429.71,322.58 429.76,321.98 429.81,321.39 429.86,320.79 429.91,320.19 429.96,319.59 430.02,319.00 430.07,318.40 430.12,317.80 430.18,317.21 430.23,316.61 430.29,316.01 430.35,315.42 430.42,314.82 430.49,314.22 430.55,313.63 430.62,313.03 430.69,312.44 430.76,311.84 430.83,311.25 430.90,310.65 430.97,310.06 431.04,309.46 431.11,308.87 431.19,308.27 431.26,307.68 431.34,307.08 431.41,306.49 431.49,305.89 431.57,305.30 431.65,304.70 431.74,304.11 431.82,303.52 431.91,302.92 432.00,302.33 432.10,301.74 432.19,301.15 432.30,300.56 432.41,299.97 432.52,299.38 432.62,298.79 432.73,298.20 432.83,297.61 432.94,297.02 433.04,296.43 433.15,295.84 433.26,295.25 433.38,294.66 433.51,294.08 433.64,293.49 433.80,292.91 433.99,292.35 434.29,291.84 434.69,292.16 434.88,292.73 435.02,293.31 435.14,293.90 435.24,294.49 435.34,295.08 435.43,295.68 435.52,296.27 435.60,296.86 435.68,297.46 435.76,298.05 435.83,298.65 435.91,299.24 435.98,299.83 436.05,300.43 436.11,301.03 436.16,301.62 436.21,302.22 436.25,302.82 436.29,303.42 436.33,304.02 436.37,304.61 436.41,305.21 436.44,305.81 436.48,306.41 436.51,307.01 436.54,307.61 436.57,308.20 436.60,308.80 436.63,309.40 436.66,310.00 436.69,310.60 436.72,311.20 436.75,311.80 436.78,312.40 436.81,312.99 436.84,313.59 436.86,314.19 436.89,314.79 436.92,315.39 436.94,315.99 436.96,316.59 436.99,317.19 437.01,317.79 437.03,318.39 437.05,318.98 437.06,319.58 437.08,320.18 437.10,320.78 437.12,321.38 437.14,321.98 437.16,322.58 437.17,323.18 437.19,323.78 437.21,324.38 437.23,324.98 437.25,325.58 437.26,326.17 437.28,326.77 437.30,327.37 437.32,327.97 437.34,328.57 437.37,329.17 437.39,329.77 437.42,330.37 437.44,330.97 437.47,331.57 437.50,332.16 437.53,332.76 437.56,333.36 437.59,333.96 437.62,334.56 437.66,335.16 437.69,335.76 437.72,336.35 437.76,336.95 437.80,337.55 437.83,338.15 437.87,338.75 437.90,339.35 437.94,339.94 437.97,340.54 438.01,341.14 438.04,341.74 438.07,342.34 438.10,342.94 438.13,343.54 438.16,344.13 438.19,344.73 438.21,345.33 438.24,345.93 438.26,346.53 438.29,347.13 438.31,347.73 438.33,348.33 438.35,348.93 438.37,349.52 438.40,350.12 438.42,350.72 438.44,351.32 438.46,351.92 438.47,352.52 438.49,353.12 438.51,353.72 438.53,354.32 438.55,354.92 438.57,355.52 438.59,356.12 438.61,356.71 438.63,357.31 438.65,357.91 438.66,358.51 438.68,359.11 438.70,359.71 438.72,360.31 438.74,360.91 438.76,361.51 438.78,362.11 438.80,362.71 438.82,363.30 438.84,363.90 438.86,364.50 438.89,365.10 438.91,365.70 438.93,366.30 438.96,366.90 438.98,367.50 439.01,368.10 439.04,368.70 439.07,369.29 439.10,369.89 439.14,370.49 439.17,371.09 439.21,371.69 439.25,372.29 439.29,372.88 439.33,373.48 439.37,374.08 439.41,374.68 439.46,375.28 439.50,375.87 439.55,376.47 439.60,377.07 439.65,377.67 439.70,378.26 439.75,378.86 439.81,379.46 439.87,380.05 439.93,380.65 439.99,381.25 440.06,381.84 440.13,382.44 440.20,383.03 440.28,383.63 440.36,384.22 440.45,384.81 440.53,385.41 440.62,386.00 440.72,386.59 440.81,387.18 440.91,387.77 441.02,388.36 441.13,388.95 441.24,389.54 441.36,390.13 441.49,390.72 441.62,391.30 441.76,391.88 441.91,392.46 442.07,393.04 442.23,393.62 442.39,394.20 442.55,394.77 442.71,395.35 442.88,395.93 443.06,396.50 443.24,397.07 443.42,397.64 443.61,398.21 443.82,398.77 444.03,399.33 444.26,399.89 444.52,400.43 444.81,400.95 445.15,401.44 445.59,401.85 446.06,402.22 446.55,402.57 447.05,402.89 447.58,403.18 448.12,403.44 448.68,403.64 449.26,403.80 449.85,403.89 450.45,403.93 451.05,403.96 451.65,403.99 452.25,404.02 452.85,404.05 453.44,404.08 454.04,404.10 454.64,404.12 455.24,404.14 455.84,404.15 456.44,404.16 457.04,404.18 457.64,404.18 458.24,404.19 458.84,404.20 459.44,404.20 460.04,404.20 460.64,404.20 461.24,404.20 461.83,404.20 462.43,404.20 463.03,404.20 463.63,404.20 464.23,404.20 464.83,404.20 465.43,404.20 466.03,404.20 466.63,404.20 467.23,404.20 467.83,404.20 468.43,404.20 469.03,404.20 469.63,404.20 470.23,404.20 470.83,404.20 471.43,404.20 472.03,404.20 472.62,404.20 473.22,404.20 473.82,404.20 474.42,404.20 475.02,404.20 475.62,404.20 476.22,404.20 476.82,404.20 477.42,404.20 478.02,404.20 478.62,404.20 479.22,404.20 479.82,404.20 480.42,404.20 481.02,404.20 481.62,404.20 482.22,404.20 482.82,404.20 483.41,404.20 484.01,404.20 484.61,404.20 485.21,404.20 485.81,404.20 486.41,404.20 487.01,404.20 487.61,404.20 488.21,404.20 488.81,404.20 489.41,404.20 490.01,404.20 490.61,404.20 491.21,404.20 491.81,404.20 492.41,404.20 493.01,404.20 493.61,404.20 494.20,404.20 494.80,404.20 495.40,404.20 496.00,404.20 496.60,404.20 497.20,404.20 497.80,404.20 498.40,404.20 499.00,404.20" fill="none" stroke="#444" stroke-width="0.9" stroke-dasharray="0.9 1.1" clip-path="url(#clipd)"/>
<path d="M294.30,404.30 294.90,404.30 295.50,404.30 296.10,404.30 296.70,404.30 297.30,404.29 297.90,404.29 298.50,404.29 299.10,404.28 299.70,404.28 300.30,404.28 300.90,404.27 301.50,404.27 302.09,404.26 302.69,404.26 303.29,404.25 303.89,404.24 304.49,404.24 305.09,404.23 305.69,404.22 306.29,404.21 306.89,404.21 307.49,404.20 308.09,404.19 308.69,404.18 309.29,404.17 309.89,404.16 310.49,404.15 311.09,404.14 311.69,404.13 312.29,404.12 312.89,404.11 313.49,404.10 314.09,404.09 314.68,404.08 315.28,404.07 315.88,404.05 316.48,404.03 317.08,404.01 317.68,403.99 318.28,403.96 318.88,403.94 319.48,403.91 320.08,403.88 320.68,403.86 321.28,403.82 321.87,403.79 322.47,403.76 323.07,403.72 323.67,403.69 324.27,403.65 324.87,403.61 325.47,403.57 326.06,403.54 326.66,403.49 327.26,403.45 327.86,403.41 328.46,403.37 329.05,403.33 329.65,403.28 330.25,403.24 330.85,403.19 331.45,403.15 332.04,403.10 332.64,403.06 333.24,403.01 333.84,402.97 334.44,402.92 335.03,402.87 335.63,402.81 336.23,402.76 336.82,402.70 337.42,402.64 338.02,402.58 338.61,402.52 339.21,402.46 339.81,402.39 340.40,402.32 341.00,402.25 341.59,402.18 342.19,402.11 342.78,402.04 343.38,401.96 343.97,401.89 344.57,401.81 345.16,401.73 345.76,401.65 346.35,401.57 346.94,401.49 347.54,401.41 348.13,401.33 348.73,401.24 349.32,401.16 349.91,401.07 350.51,400.99 351.10,400.90 351.69,400.82 352.29,400.73 352.88,400.65 353.47,400.56 354.07,400.47 354.66,400.38 355.25,400.28 355.84,400.18 356.43,400.08 357.02,399.97 357.61,399.87 358.20,399.76 358.79,399.65 359.38,399.55 359.97,399.44 360.56,399.33 361.15,399.22 361.74,399.12 362.33,399.01 362.92,398.91 363.52,398.81 364.11,398.72 364.70,398.62 365.29,398.53 365.89,398.44 366.48,398.35 367.07,398.27 367.66,398.18 368.26,398.09 368.85,398.00 369.44,397.91 370.04,397.82 370.63,397.72 371.22,397.63 371.81,397.53 372.40,397.42 372.99,397.31 373.58,397.20 374.17,397.08 374.75,396.95 375.34,396.82 375.92,396.68 376.50,396.52 377.08,396.36 377.65,396.19 378.22,396.01 378.79,395.82 379.36,395.63 379.93,395.43 380.49,395.24 381.06,395.04 381.63,394.84 382.19,394.64 382.76,394.45 383.33,394.26 383.90,394.07 384.47,393.88 385.04,393.70 385.61,393.52 386.18,393.34 386.75,393.15 387.32,392.97 387.89,392.79 388.46,392.60 389.03,392.41 389.60,392.22 390.17,392.03 390.73,391.83 391.30,391.63 391.86,391.42 392.42,391.21 392.98,390.99 393.54,390.77 394.09,390.54 394.65,390.32 395.20,390.08 395.75,389.85 396.30,389.61 396.85,389.36 397.39,389.11 397.94,388.86 398.48,388.60 399.01,388.33 399.55,388.06 400.08,387.78 400.61,387.50 401.13,387.21 401.65,386.91 402.17,386.61 402.68,386.30 403.19,385.98 403.70,385.66 404.20,385.33 404.69,384.99 405.19,384.65 405.67,384.30 406.16,383.94 406.63,383.58 407.11,383.21 407.58,382.84 408.04,382.46 408.50,382.08 408.96,381.69 409.41,381.29 409.86,380.89 410.30,380.49 410.74,380.08 411.17,379.66 411.59,379.24 412.00,378.80 412.41,378.36 412.81,377.91 413.20,377.46 413.58,376.99 413.96,376.53 414.33,376.06 414.69,375.58 415.05,375.10 415.40,374.62 415.75,374.13 416.09,373.63 416.41,373.13 416.73,372.62 417.04,372.10 417.34,371.58 417.63,371.06 417.92,370.54 418.20,370.01 418.49,369.48 418.76,368.95 419.04,368.41 419.31,367.88 419.58,367.35 419.85,366.81 420.11,366.27 420.37,365.73 420.63,365.19 420.88,364.64 421.13,364.10 421.37,363.55 421.61,363.00 421.85,362.45 422.08,361.89 422.31,361.34 422.53,360.78 422.75,360.23 422.97,359.67 423.18,359.11 423.39,358.54 423.59,357.98 423.79,357.41 423.99,356.85 424.18,356.28 424.37,355.71 424.56,355.14 424.75,354.57 424.93,354.00 425.11,353.43 425.29,352.86 425.47,352.29 425.64,351.71 425.81,351.14 425.99,350.56 426.16,349.99 426.33,349.41 426.49,348.84 426.65,348.26 426.81,347.68 426.96,347.10 427.12,346.52 427.27,345.94 427.41,345.36 427.56,344.78 427.71,344.20 427.85,343.61 427.99,343.03 428.13,342.45 428.28,341.87 428.42,341.28 428.56,340.70 428.70,340.12 428.84,339.54 428.98,338.95 429.13,338.37 429.27,337.79 429.42,337.21 429.56,336.63 429.71,336.04 429.86,335.46 430.01,334.88 430.17,334.31 430.33,333.73 430.49,333.15 430.65,332.57 430.81,331.99 430.96,331.41 431.10,330.83 431.24,330.25 431.37,329.66 431.50,329.08 431.62,328.49 431.73,327.90 431.85,327.31 431.95,326.72 432.06,326.13 432.16,325.54 432.27,324.95 432.37,324.36 432.47,323.77 432.57,323.18 432.67,322.59 432.77,321.99 432.86,321.40 432.96,320.81 433.06,320.22 433.16,319.63 433.26,319.04 433.36,318.45 433.47,317.86 433.57,317.27 433.68,316.68 433.79,316.09 433.90,315.50 434.02,314.91 434.13,314.32 434.23,313.73 434.33,313.14 434.43,312.55 434.53,311.96 434.62,311.36 434.73,310.77 434.84,310.18 434.97,309.60 435.13,309.02 435.47,308.62 435.80,309.11 435.99,309.68 436.15,310.26 436.29,310.84 436.43,311.43 436.55,312.01 436.68,312.60 436.80,313.19 436.92,313.77 437.05,314.36 437.19,314.94 437.32,315.53 437.45,316.11 437.58,316.70 437.70,317.29 437.81,317.87 437.93,318.46 438.04,319.05 438.15,319.64 438.27,320.23 438.38,320.82 438.49,321.41 438.61,321.99 438.73,322.58 438.85,323.17 438.98,323.76 439.11,324.34 439.24,324.92 439.38,325.51 439.52,326.09 439.66,326.67 439.80,327.26 439.94,327.84 440.07,328.43 440.20,329.01 440.32,329.60 440.44,330.19 440.55,330.78 440.65,331.37 440.76,331.96 440.86,332.55 440.96,333.14 441.05,333.73 441.15,334.32 441.25,334.91 441.35,335.51 441.45,336.10 441.55,336.69 441.64,337.28 441.73,337.87 441.83,338.47 441.92,339.06 442.02,339.65 442.11,340.24 442.20,340.83 442.29,341.43 442.39,342.02 442.48,342.61 442.58,343.20 442.67,343.80 442.77,344.39 442.87,344.98 442.97,345.57 443.07,346.16 443.17,346.75 443.28,347.34 443.39,347.93 443.50,348.52 443.61,349.11 443.72,349.70 443.84,350.29 443.95,350.88 444.07,351.46 444.19,352.05 444.31,352.64 444.42,353.23 444.54,353.81 444.67,354.40 444.79,354.99 444.91,355.57 445.04,356.16 445.17,356.75 445.29,357.33 445.42,357.92 445.55,358.50 445.69,359.09 445.82,359.67 445.96,360.26 446.10,360.84 446.24,361.42 446.38,362.01 446.52,362.59 446.67,363.17 446.81,363.75 446.96,364.33 447.11,364.91 447.27,365.49 447.42,366.07 447.58,366.65 447.74,367.23 447.90,367.81 448.06,368.38 448.23,368.96 448.39,369.53 448.56,370.11 448.74,370.68 448.91,371.26 449.09,371.83 449.27,372.40 449.45,372.97 449.64,373.54 449.83,374.11 450.02,374.68 450.22,375.24 450.42,375.81 450.62,376.38 450.82,376.94 451.02,377.51 451.22,378.07 451.43,378.63 451.63,379.20 451.84,379.76 452.06,380.32 452.27,380.88 452.49,381.44 452.72,381.99 452.95,382.54 453.18,383.10 453.43,383.64 453.68,384.19 453.94,384.73 454.20,385.27 454.49,385.80 454.78,386.32 455.08,386.84 455.39,387.35 455.70,387.87 456.01,388.37 456.34,388.88 456.67,389.38 457.00,389.88 457.34,390.37 457.69,390.86 458.05,391.34 458.42,391.81 458.79,392.28 459.17,392.75 459.56,393.20 459.96,393.65 460.37,394.08 460.79,394.51 461.22,394.93 461.66,395.34 462.11,395.74 462.55,396.14 463.00,396.54 463.45,396.93 463.91,397.32 464.38,397.70 464.85,398.07 465.32,398.44 465.80,398.79 466.29,399.14 466.79,399.48 467.29,399.80 467.81,400.11 468.33,400.40 468.86,400.68 469.40,400.94 469.96,401.17 470.52,401.38 471.08,401.58 471.65,401.78 472.22,401.96 472.79,402.15 473.36,402.32 473.94,402.49 474.52,402.64 475.10,402.79 475.68,402.93 476.27,403.06 476.86,403.17 477.45,403.27 478.04,403.36 478.64,403.44 479.23,403.50 479.83,403.56 480.43,403.61 481.02,403.66 481.62,403.70 482.22,403.75 482.82,403.79 483.42,403.83 484.02,403.87 484.61,403.90 485.21,403.93 485.81,403.96 486.41,403.99 487.01,404.01 487.61,404.04 488.21,404.06 488.81,404.07 489.41,404.09 490.01,404.10 490.61,404.11 491.21,404.12 491.81,404.13 492.40,404.14 493.00,404.15 493.60,404.16 494.20,404.17 494.80,404.17 495.40,404.18 496.00,404.19 496.60,404.19 497.20,404.19 497.80,404.20 498.40,404.20 499.00,404.20" fill="none" stroke="#c43656" stroke-width="1.2" stroke-dasharray="3 1.3" clip-path="url(#clipd)"/>
<path d="M294.30,404.30 294.90,404.30 295.50,404.30 296.10,404.30 296.70,404.29 297.30,404.29 297.90,404.29 298.50,404.28 299.10,404.28 299.70,404.27 300.30,404.26 300.90,404.26 301.50,404.25 302.10,404.24 302.70,404.23 303.30,404.22 303.90,404.21 304.50,404.20 305.10,404.19 305.70,404.18 306.30,404.17 306.89,404.16 307.49,404.15 308.09,404.13 308.69,404.12 309.29,404.11 309.89,404.09 310.49,404.08 311.09,404.07 311.69,404.05 312.29,404.04 312.89,404.02 313.49,404.01 314.09,403.99 314.69,403.97 315.29,403.95 315.89,403.92 316.49,403.90 317.09,403.87 317.69,403.83 318.28,403.80 318.88,403.76 319.48,403.72 320.08,403.68 320.68,403.63 321.28,403.59 321.87,403.54 322.47,403.49 323.07,403.44 323.67,403.39 324.26,403.33 324.86,403.28 325.46,403.22 326.06,403.16 326.65,403.10 327.25,403.04 327.85,402.98 328.44,402.92 329.04,402.86 329.64,402.80 330.23,402.74 330.83,402.67 331.43,402.61 332.02,402.55 332.62,402.48 333.21,402.42 333.81,402.36 334.41,402.29 335.00,402.22 335.60,402.15 336.19,402.08 336.79,402.00 337.38,401.93 337.98,401.85 338.57,401.77 339.17,401.68 339.76,401.60 340.35,401.51 340.95,401.43 341.54,401.34 342.13,401.25 342.73,401.16 343.32,401.06 343.91,400.97 344.50,400.87 345.10,400.78 345.69,400.68 346.28,400.58 346.87,400.48 347.46,400.38 348.05,400.28 348.65,400.18 349.24,400.08 349.83,399.98 350.42,399.88 351.01,399.78 351.60,399.68 352.19,399.57 352.78,399.47 353.37,399.37 353.97,399.27 354.56,399.16 355.15,399.06 355.74,398.95 356.33,398.85 356.92,398.74 357.51,398.63 358.10,398.52 358.69,398.41 359.27,398.29 359.86,398.17 360.45,398.05 361.04,397.93 361.62,397.81 362.21,397.68 362.80,397.55 363.38,397.41 363.96,397.27 364.55,397.13 365.13,396.98 365.71,396.83 366.29,396.67 366.86,396.51 367.44,396.35 368.02,396.19 368.59,396.02 369.17,395.85 369.74,395.68 370.32,395.51 370.89,395.33 371.47,395.16 372.04,394.99 372.62,394.81 373.19,394.64 373.76,394.47 374.34,394.30 374.91,394.13 375.49,393.95 376.06,393.78 376.64,393.61 377.21,393.43 377.78,393.25 378.36,393.07 378.93,392.90 379.50,392.72 380.07,392.54 380.65,392.36 381.22,392.18 381.79,392.00 382.37,391.83 382.94,391.66 383.52,391.48 384.09,391.32 384.67,391.15 385.24,390.99 385.82,390.83 386.40,390.67 386.98,390.51 387.56,390.36 388.14,390.20 388.72,390.04 389.30,389.89 389.87,389.73 390.45,389.57 391.03,389.40 391.60,389.23 392.18,389.06 392.75,388.88 393.33,388.71 393.90,388.53 394.47,388.35 395.04,388.18 395.62,388.00 396.19,387.82 396.76,387.63 397.33,387.44 397.90,387.25 398.46,387.05 399.02,386.84 399.58,386.62 400.14,386.40 400.69,386.16 401.24,385.92 401.78,385.67 402.32,385.40 402.85,385.12 403.37,384.82 403.89,384.52 404.40,384.21 404.91,383.88 405.40,383.55 405.90,383.21 406.39,382.86 406.87,382.50 407.35,382.14 407.82,381.77 408.29,381.40 408.75,381.02 409.21,380.63 409.67,380.24 410.12,379.85 410.57,379.45 411.01,379.04 411.43,378.62 411.85,378.19 412.26,377.75 412.66,377.30 413.05,376.85 413.44,376.39 413.82,375.93 414.19,375.45 414.55,374.98 414.91,374.50 415.27,374.01 415.61,373.52 415.95,373.03 416.28,372.53 416.60,372.02 416.91,371.51 417.22,370.99 417.51,370.47 417.80,369.94 418.08,369.41 418.36,368.88 418.63,368.35 418.90,367.81 419.16,367.27 419.42,366.73 419.68,366.19 419.93,365.64 420.17,365.10 420.41,364.55 420.65,363.99 420.88,363.44 421.10,362.88 421.32,362.33 421.54,361.77 421.75,361.21 421.96,360.64 422.17,360.08 422.37,359.52 422.57,358.95 422.77,358.39 422.96,357.82 423.16,357.25 423.35,356.68 423.53,356.11 423.72,355.54 423.90,354.97 424.08,354.40 424.25,353.82 424.42,353.25 424.59,352.67 424.76,352.09 424.92,351.52 425.07,350.94 425.23,350.36 425.38,349.78 425.53,349.20 425.67,348.61 425.81,348.03 425.95,347.45 426.08,346.86 426.22,346.28 426.35,345.69 426.47,345.10 426.58,344.52 426.69,343.93 426.79,343.34 426.90,342.74 427.00,342.15 427.09,341.56 427.19,340.97 427.28,340.38 427.38,339.78 427.47,339.19 427.57,338.60 427.66,338.01 427.75,337.41 427.85,336.82 427.94,336.23 428.04,335.64 428.14,335.05 428.25,334.46 428.36,333.87 428.46,333.28 428.57,332.69 428.67,332.10 428.77,331.50 428.87,330.91 428.96,330.32 429.04,329.72 429.11,329.13 429.18,328.53 429.25,327.94 429.31,327.34 429.37,326.74 429.43,326.15 429.49,325.55 429.55,324.95 429.60,324.36 429.66,323.76 429.71,323.16 429.76,322.56 429.82,321.97 429.87,321.37 429.93,320.77 429.98,320.17 430.03,319.58 430.09,318.98 430.15,318.38 430.20,317.79 430.26,317.19 430.32,316.59 430.39,316.00 430.45,315.40 430.52,314.80 430.59,314.21 430.67,313.61 430.74,313.02 430.81,312.42 430.88,311.83 430.96,311.23 431.03,310.64 431.11,310.04 431.19,309.45 431.26,308.85 431.34,308.26 431.42,307.66 431.50,307.07 431.58,306.47 431.67,305.88 431.75,305.29 431.84,304.69 431.92,304.10 432.01,303.51 432.11,302.91 432.20,302.32 432.30,301.73 432.40,301.14 432.50,300.55 432.61,299.96 432.71,299.37 432.82,298.78 432.92,298.18 433.02,297.59 433.12,297.00 433.22,296.41 433.32,295.82 433.43,295.23 433.54,294.64 433.65,294.05 433.77,293.46 433.90,292.88 434.06,292.30 434.25,291.73 434.62,291.30 434.95,291.78 435.13,292.35 435.26,292.94 435.38,293.53 435.49,294.12 435.59,294.71 435.68,295.30 435.77,295.89 435.85,296.49 435.93,297.08 436.01,297.68 436.09,298.27 436.16,298.87 436.23,299.46 436.31,300.06 436.37,300.65 436.43,301.25 436.48,301.85 436.52,302.45 436.57,303.04 436.61,303.64 436.65,304.24 436.68,304.84 436.72,305.44 436.75,306.04 436.79,306.64 436.82,307.24 436.85,307.83 436.88,308.43 436.92,309.03 436.95,309.63 436.98,310.23 437.00,310.83 437.03,311.43 437.06,312.03 437.09,312.63 437.12,313.23 437.15,313.83 437.17,314.42 437.20,315.02 437.23,315.62 437.25,316.22 437.27,316.82 437.29,317.42 437.31,318.02 437.33,318.62 437.35,319.22 437.37,319.82 437.39,320.42 437.41,321.02 437.43,321.62 437.44,322.22 437.46,322.82 437.48,323.42 437.50,324.02 437.52,324.62 437.53,325.21 437.55,325.81 437.57,326.41 437.59,327.01 437.61,327.61 437.63,328.21 437.65,328.81 437.68,329.41 437.70,330.01 437.73,330.61 437.75,331.21 437.78,331.81 437.81,332.41 437.84,333.01 437.87,333.61 437.90,334.20 437.94,334.80 437.97,335.40 438.00,336.00 438.04,336.60 438.07,337.20 438.11,337.80 438.15,338.40 438.18,338.99 438.22,339.59 438.25,340.19 438.29,340.79 438.32,341.39 438.35,341.99 438.38,342.59 438.41,343.19 438.44,343.79 438.47,344.38 438.50,344.98 438.53,345.58 438.55,346.18 438.57,346.78 438.60,347.38 438.62,347.98 438.64,348.58 438.66,349.18 438.68,349.78 438.70,350.38 438.72,350.98 438.74,351.58 438.76,352.18 438.78,352.78 438.80,353.38 438.82,353.98 438.84,354.57 438.86,355.17 438.88,355.77 438.90,356.37 438.92,356.97 438.93,357.57 438.95,358.17 438.97,358.77 438.99,359.37 439.01,359.97 439.03,360.57 439.05,361.17 439.07,361.77 439.09,362.37 439.11,362.97 439.13,363.57 439.15,364.17 439.17,364.77 439.20,365.37 439.22,365.96 439.24,366.56 439.27,367.16 439.29,367.76 439.32,368.36 439.35,368.96 439.38,369.56 439.42,370.16 439.45,370.76 439.49,371.36 439.53,371.95 439.57,372.55 439.61,373.15 439.65,373.75 439.69,374.35 439.73,374.95 439.78,375.54 439.82,376.14 439.87,376.74 439.92,377.34 439.97,377.94 440.02,378.53 440.08,379.13 440.13,379.73 440.19,380.32 440.26,380.92 440.32,381.52 440.39,382.11 440.46,382.71 440.54,383.30 440.62,383.90 440.70,384.49 440.79,385.09 440.87,385.68 440.97,386.27 441.06,386.86 441.16,387.46 441.26,388.05 441.37,388.64 441.48,389.23 441.60,389.81 441.72,390.40 441.85,390.99 441.99,391.57 442.13,392.15 442.28,392.73 442.44,393.31 442.60,393.89 442.76,394.47 442.93,395.04 443.09,395.62 443.27,396.20 443.44,396.77 443.63,397.34 443.81,397.91 444.01,398.48 444.22,399.04 444.44,399.59 444.69,400.14 444.95,400.68 445.26,401.19 445.65,401.65 446.11,402.04 446.58,402.41 447.07,402.75 447.58,403.07 448.11,403.35 448.66,403.58 449.24,403.76 449.82,403.87 450.42,403.92 451.02,403.96 451.62,403.99 452.22,404.02 452.82,404.05 453.42,404.07 454.02,404.10 454.62,404.12 455.22,404.13 455.81,404.15 456.41,404.16 457.01,404.18 457.61,404.18 458.21,404.19 458.81,404.20 459.41,404.20 460.01,404.20 460.61,404.20 461.21,404.20 461.81,404.20 462.41,404.20 463.01,404.20 463.61,404.20 464.21,404.20 464.81,404.20 465.41,404.20 466.01,404.20 466.61,404.20 467.21,404.20 467.81,404.20 468.41,404.20 469.01,404.20 469.61,404.20 470.21,404.20 470.81,404.20 471.41,404.20 472.01,404.20 472.61,404.20 473.21,404.20 473.81,404.20 474.41,404.20 475.01,404.20 475.61,404.20 476.21,404.20 476.81,404.20 477.41,404.20 478.01,404.20 478.61,404.20 479.21,404.20 479.81,404.20 480.41,404.20 481.01,404.20 481.61,404.20 482.21,404.20 482.81,404.20 483.41,404.20 484.01,404.20 484.60,404.20 485.20,404.20 485.80,404.20 486.40,404.20 487.00,404.20 487.60,404.20 488.20,404.20 488.80,404.20 489.40,404.20 490.00,404.20 490.60,404.20 491.20,404.20 491.80,404.20 492.40,404.20 493.00,404.20 493.60,404.20 494.20,404.20 494.80,404.20 495.40,404.20 496.00,404.20 496.60,404.20 497.20,404.20 497.80,404.20 498.40,404.20 499.00,404.20" fill="none" stroke="#4438dd" stroke-width="1.15" clip-path="url(#clipd)"/>
<rect x="294.30" y="230.40" width="204.70" height="173.80" fill="none" stroke="#7a7a7a" stroke-width="1.1" stroke-opacity="0.9"/>
<line x1="294.30" y1="404.20" x2="294.30" y2="406.40" stroke="#808080" stroke-width="1"/>
<line x1="362.53" y1="404.20" x2="362.53" y2="406.40" stroke="#808080" stroke-width="1"/>
<line x1="430.77" y1="404.20" x2="430.77" y2="406.40" stroke="#808080" stroke-width="1"/>
<line x1="499.00" y1="404.20" x2="499.00" y2="406.40" stroke="#808080" stroke-width="1"/>
<line x1="314.84" y1="404.20" x2="314.84" y2="405.60" stroke="#b0b0b0" stroke-width="0.8"/>
<line x1="326.86" y1="404.20" x2="326.86" y2="405.60" stroke="#b0b0b0" stroke-width="0.8"/>
<line x1="335.38" y1="404.20" x2="335.38" y2="405.60" stroke="#b0b0b0" stroke-width="0.8"/>
<line x1="341.99" y1="404.20" x2="341.99" y2="405.60" stroke="#b0b0b0" stroke-width="0.8"/>
<line x1="347.40" y1="404.20" x2="347.40" y2="405.60" stroke="#b0b0b0" stroke-width="0.8"/>
<line x1="351.96" y1="404.20" x2="351.96" y2="405.60" stroke="#b0b0b0" stroke-width="0.8"/>
<line x1="355.92" y1="404.20" x2="355.92" y2="405.60" stroke="#b0b0b0" stroke-width="0.8"/>
<line x1="359.41" y1="404.20" x2="359.41" y2="405.60" stroke="#b0b0b0" stroke-width="0.8"/>
<line x1="383.07" y1="404.20" x2="383.07" y2="405.60" stroke="#b0b0b0" stroke-width="0.8"/>
<line x1="395.09" y1="404.20" x2="395.09" y2="405.60" stroke="#b0b0b0" stroke-width="0.8"/>
<line x1="403.61" y1="404.20" x2="403.61" y2="405.60" stroke="#b0b0b0" stroke-width="0.8"/>
<line x1="410.23" y1="404.20" x2="410.23" y2="405.60" stroke="#b0b0b0" stroke-width="0.8"/>
<line x1="415.63" y1="404.20" x2="415.63" y2="405.60" stroke="#b0b0b0" stroke-width="0.8"/>
<line x1="420.20" y1="404.20" x2="420.20" y2="405.60" stroke="#b0b0b0" stroke-width="0.8"/>
<line x1="424.15" y1="404.20" x2="424.15" y2="405.60" stroke="#b0b0b0" stroke-width="0.8"/>
<line x1="427.64" y1="404.20" x2="427.64" y2="405.60" stroke="#b0b0b0" stroke-width="0.8"/>
<line x1="451.31" y1="404.20" x2="451.31" y2="405.60" stroke="#b0b0b0" stroke-width="0.8"/>
<line x1="463.32" y1="404.20" x2="463.32" y2="405.60" stroke="#b0b0b0" stroke-width="0.8"/>
<line x1="471.85" y1="404.20" x2="471.85" y2="405.60" stroke="#b0b0b0" stroke-width="0.8"/>
<line x1="478.46" y1="404.20" x2="478.46" y2="405.60" stroke="#b0b0b0" stroke-width="0.8"/>
<line x1="483.86" y1="404.20" x2="483.86" y2="405.60" stroke="#b0b0b0" stroke-width="0.8"/>
<line x1="488.43" y1="404.20" x2="488.43" y2="405.60" stroke="#b0b0b0" stroke-width="0.8"/>
<line x1="492.39" y1="404.20" x2="492.39" y2="405.60" stroke="#b0b0b0" stroke-width="0.8"/>
<line x1="495.88" y1="404.20" x2="495.88" y2="405.60" stroke="#b0b0b0" stroke-width="0.8"/>
<line x1="292.10" y1="404.20" x2="294.30" y2="404.20" stroke="#808080" stroke-width="1"/>
<line x1="292.10" y1="369.44" x2="294.30" y2="369.44" stroke="#808080" stroke-width="1"/>
<line x1="292.10" y1="334.68" x2="294.30" y2="334.68" stroke="#808080" stroke-width="1"/>
<line x1="292.10" y1="299.92" x2="294.30" y2="299.92" stroke="#808080" stroke-width="1"/>
<line x1="292.10" y1="265.16" x2="294.30" y2="265.16" stroke="#808080" stroke-width="1"/>
<line x1="292.10" y1="230.40" x2="294.30" y2="230.40" stroke="#808080" stroke-width="1"/>
<text class="s" x="275.70" y="407.95" font-size="10.2" textLength="14.60" lengthAdjust="spacingAndGlyphs">0.0</text>
<text class="s" x="275.70" y="373.19" font-size="10.2" textLength="14.60" lengthAdjust="spacingAndGlyphs">0.2</text>
<text class="s" x="275.70" y="338.43" font-size="10.2" textLength="14.60" lengthAdjust="spacingAndGlyphs">0.4</text>
<text class="s" x="275.70" y="303.67" font-size="10.2" textLength="14.60" lengthAdjust="spacingAndGlyphs">0.6</text>
<text class="s" x="275.70" y="268.91" font-size="10.2" textLength="14.60" lengthAdjust="spacingAndGlyphs">0.8</text>
<text class="s" x="275.70" y="234.15" font-size="10.2" textLength="14.60" lengthAdjust="spacingAndGlyphs">1.0</text>
<text class="s" x="286.30" y="415.70" font-size="10.2" textLength="11.60" lengthAdjust="spacingAndGlyphs">10</text>
<text class="s" x="298.30" y="411.50" font-size="7.0" textLength="4.20" lengthAdjust="spacingAndGlyphs">0</text>
<text class="s" x="354.53" y="415.70" font-size="10.2" textLength="11.60" lengthAdjust="spacingAndGlyphs">10</text>
<text class="s" x="366.53" y="411.50" font-size="7.0" textLength="4.20" lengthAdjust="spacingAndGlyphs">1</text>
<text class="s" x="422.77" y="415.70" font-size="10.2" textLength="11.60" lengthAdjust="spacingAndGlyphs">10</text>
<text class="s" x="434.77" y="411.50" font-size="7.0" textLength="4.20" lengthAdjust="spacingAndGlyphs">2</text>
<text class="s" x="491.00" y="415.70" font-size="10.2" textLength="11.60" lengthAdjust="spacingAndGlyphs">10</text>
<text class="s" x="503.00" y="411.50" font-size="7.0" textLength="4.20" lengthAdjust="spacingAndGlyphs">3</text>
<text class="s" x="293.70" y="228.90" font-size="10.2" textLength="23.00" lengthAdjust="spacingAndGlyphs">1e25</text>
<text class="s" x="382.20" y="226.80" font-size="11" textLength="28.20" lengthAdjust="spacingAndGlyphs">T-nbi</text>
<text class="s" x="365.50" y="427.50" font-size="10" textLength="60.90" lengthAdjust="spacingAndGlyphs">Energy (keV)</text>
<text class="s" transform="translate(271.00,366.20) rotate(-90)" font-size="10" textLength="96.90" lengthAdjust="spacingAndGlyphs">Energy density (a.u.)</text>
<text class="s" x="337.00" y="311.70" font-size="17.2" textLength="22.10" lengthAdjust="spacingAndGlyphs">(d)</text>
<rect x="408.30" y="235.90" width="86.00" height="43.40" rx="2" fill="#fff" fill-opacity="0.85" stroke="#dedede" stroke-width="1"/>
<line x1="410.80" y1="242.80" x2="431.20" y2="242.80" stroke="#555" stroke-width="1" stroke-dasharray="1 1"/>
<text class="s" x="437.90" y="246.00" font-size="9.3" textLength="23.66" lengthAdjust="spacingAndGlyphs">input</text>
<line x1="410.80" y1="256.00" x2="431.20" y2="256.00" stroke="#4438dd" stroke-width="1.4"/>
<text class="s" x="437.90" y="259.30" font-size="9.3" textLength="52.40" lengthAdjust="spacingAndGlyphs">RF=51MHz</text>
<line x1="410.80" y1="270.40" x2="431.20" y2="270.40" stroke="#c43656" stroke-width="1.4" stroke-dasharray="3 1.2"/>
<text class="s" x="437.90" y="273.70" font-size="9.3" textLength="52.40" lengthAdjust="spacingAndGlyphs">RF=33MHz</text>
</svg>
</body></html>
